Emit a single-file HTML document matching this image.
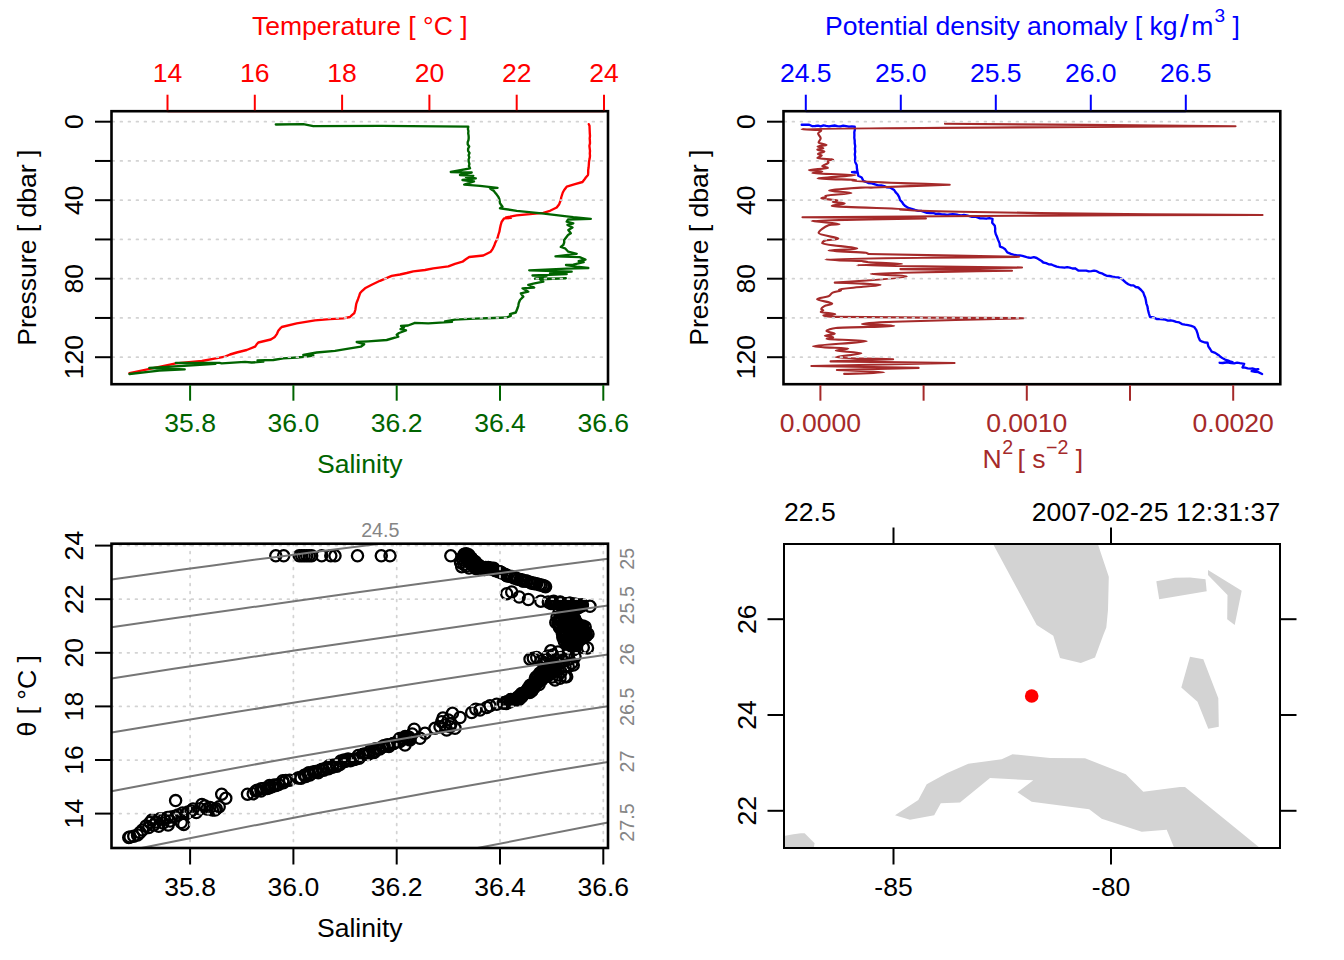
<!DOCTYPE html>
<html><head><meta charset="utf-8"><title>CTD plot</title>
<style>
html,body{margin:0;padding:0;background:#fff;}
svg{display:block;font-family:"Liberation Sans",sans-serif;}
</style></head>
<body>
<svg width="1344" height="960" viewBox="0 0 1344 960">
<defs>
<clipPath id="c1"><rect x="111.5" y="111.2" width="496.5" height="273.0"/></clipPath>
<clipPath id="c2"><rect x="783.5" y="111.2" width="496.79999999999995" height="273.0"/></clipPath>
<clipPath id="c3"><rect x="111.5" y="543.7" width="496.5" height="304.29999999999995"/></clipPath>
<clipPath id="c4"><rect x="784" y="544" width="496" height="304"/></clipPath>
</defs>
<rect width="1344" height="960" fill="#fff"/>
<g clip-path="url(#c1)">
<polyline points="588.8,124.2 589.5,125.8 589.6,128.3 589.7,130.8 589.8,133.3 590.0,135.8 589.7,138.3 589.9,140.8 590.0,143.3 589.4,145.8 589.7,148.3 590.0,150.8 589.8,153.3 590.0,155.8 589.7,158.3 589.0,161.7 588.8,165.0 588.6,167.5 588.2,170.0 588.2,172.5 588.0,175.0 585.8,177.5 584.2,179.8 582.5,182.0 575.0,184.2 566.7,186.7 564.2,190.0 562.8,192.5 562.0,195.0 561.2,197.5 560.8,200.0 559.2,204.2 556.7,207.5 550.0,210.8 543.3,212.8 530.0,214.2 516.7,215.3 510.0,216.7 506.0,217.3 511.0,217.9 504.2,218.3 501.7,221.7 500.7,225.0 500.0,228.3 499.4,231.7 498.3,235.0 497.7,237.5 496.7,240.0 495.2,242.9 494.2,245.8 492.7,248.8 490.8,251.7 483.3,255.5 469.2,257.0 465.8,259.2 462.5,261.7 455.0,263.8 448.3,266.3 433.3,268.3 425.0,270.0 413.3,271.3 406.7,273.0 400.0,274.5 391.7,275.8 380.0,280.8 371.7,284.7 365.0,288.3 362.2,290.8 360.0,293.3 359.1,296.2 358.0,299.2 357.0,301.7 356.2,304.2 355.8,306.7 355.3,310.0 354.2,313.3 351.9,315.1 350.0,317.0 343.3,318.3 330.0,319.2 315.0,320.3 296.7,323.3 281.7,327.0 279.8,328.9 278.3,330.8 277.0,333.8 275.0,336.7 273.2,338.1 270.8,339.5 258.3,342.5 256.5,344.6 255.0,346.7 246.7,350.0 236.7,352.5 230.0,354.5 225.0,356.7 214.4,358.6 201.9,361.0 175.8,363.3 129.5,373.2" fill="none" stroke="#ff0000" stroke-width="2.35" stroke-linejoin="round" stroke-linecap="round"/>
<polyline points="275.8,124.5 303.3,124.2 313.3,126.2 381.7,125.8 468.3,126.7 467.9,128.9 468.4,131.1 468.2,133.3 468.6,135.6 468.7,137.8 468.5,140.0 467.7,142.2 467.7,144.3 469.2,146.5 468.1,148.7 468.1,150.8 469.5,153.0 468.6,155.2 469.3,157.4 468.6,159.5 468.7,161.7 469.4,163.9 468.9,166.1 470.0,168.3 450.8,172.0 471.7,172.5 460.0,175.0 473.3,175.8 466.0,177.0 475.8,178.3 462.5,180.0 474.0,181.5 464.2,184.7 480.0,185.8 497.5,187.8 490.0,188.3 491.9,189.7 494.0,191.1 495.0,192.5 496.7,194.6 498.3,196.7 499.3,198.9 499.7,201.1 500.0,203.3 502.5,206.7 500.0,208.3 516.7,210.8 541.7,213.3 566.7,216.3 573.3,217.2 590.8,218.8 568.0,219.5 566.7,221.7 573.3,223.3 567.5,225.0 572.5,227.5 568.3,230.0 570.8,233.3 568.0,235.0 566.7,236.7 564.2,240.0 564.2,242.5 563.3,245.0 560.8,247.0 565.0,248.3 568.3,251.7 576.7,253.8 555.5,256.3 579.6,257.2 585.5,259.5 578.7,261.2 583.7,262.2 573.3,264.7 566.0,265.0 576.7,266.7 588.3,268.0 566.7,268.7 529.2,270.3 571.7,271.7 550.0,273.3 566.7,274.2 532.5,275.5 546.7,275.8 535.0,278.7 565.8,278.3 540.0,279.3 543.3,281.7 533.3,283.7 528.3,285.0 534.2,287.5 522.5,288.3 528.3,291.7 520.8,293.3 523.3,296.7 520.0,300.0 518.7,303.3 518.3,305.8 517.5,308.3 515.8,312.5 510.0,314.2 510.8,315.8 506.7,317.5 493.3,318.0 475.0,318.7 455.0,319.7 445.0,321.3 452.0,321.8 428.3,323.3 415.0,322.8 408.0,325.5 401.0,326.0 404.0,327.5 400.5,329.0 406.0,330.5 399.0,333.0 396.7,334.7 398.3,336.7 386.7,340.0 368.3,341.3 356.7,342.0 364.2,344.2 360.8,346.7 350.0,348.3 335.0,350.8 316.7,352.5 303.3,355.0 313.3,355.5 306.7,356.7 296.7,357.5 283.3,358.3 273.3,360.0 257.5,360.3 263.3,361.7 251.7,362.5 245.0,361.8 221.7,363.3 219.6,362.8 175.8,362.9 215.4,363.9 149.3,368.0 184.7,369.4 159.2,370.6 129.5,374.0" fill="none" stroke="#006400" stroke-width="2.35" stroke-linejoin="round" stroke-linecap="round"/>
</g>
<line x1="112.5" y1="121.7" x2="607" y2="121.7" stroke="#d3d3d3" stroke-width="1.75" stroke-dasharray="1.7 6.3" stroke-linecap="round"/>
<line x1="112.5" y1="160.95" x2="607" y2="160.95" stroke="#d3d3d3" stroke-width="1.75" stroke-dasharray="1.7 6.3" stroke-linecap="round"/>
<line x1="112.5" y1="200.2" x2="607" y2="200.2" stroke="#d3d3d3" stroke-width="1.75" stroke-dasharray="1.7 6.3" stroke-linecap="round"/>
<line x1="112.5" y1="239.45" x2="607" y2="239.45" stroke="#d3d3d3" stroke-width="1.75" stroke-dasharray="1.7 6.3" stroke-linecap="round"/>
<line x1="112.5" y1="278.7" x2="607" y2="278.7" stroke="#d3d3d3" stroke-width="1.75" stroke-dasharray="1.7 6.3" stroke-linecap="round"/>
<line x1="112.5" y1="317.95" x2="607" y2="317.95" stroke="#d3d3d3" stroke-width="1.75" stroke-dasharray="1.7 6.3" stroke-linecap="round"/>
<line x1="112.5" y1="357.2" x2="607" y2="357.2" stroke="#d3d3d3" stroke-width="1.75" stroke-dasharray="1.7 6.3" stroke-linecap="round"/>
<line x1="167.5" y1="111.2" x2="604.0" y2="111.2" stroke="#ff0000" stroke-width="2" />
<line x1="190.09999999999854" y1="384.2" x2="603.3000000000006" y2="384.2" stroke="#006400" stroke-width="2" />
<rect x="111.5" y="111.2" width="496.5" height="273.0" fill="none" stroke="#000" stroke-width="2.6"/>
<line x1="95.0" y1="121.7" x2="111.5" y2="121.7" stroke="#000" stroke-width="2" />
<line x1="95.0" y1="160.95" x2="111.5" y2="160.95" stroke="#000" stroke-width="2" />
<line x1="95.0" y1="200.2" x2="111.5" y2="200.2" stroke="#000" stroke-width="2" />
<line x1="95.0" y1="239.45" x2="111.5" y2="239.45" stroke="#000" stroke-width="2" />
<line x1="95.0" y1="278.7" x2="111.5" y2="278.7" stroke="#000" stroke-width="2" />
<line x1="95.0" y1="317.95" x2="111.5" y2="317.95" stroke="#000" stroke-width="2" />
<line x1="95.0" y1="357.2" x2="111.5" y2="357.2" stroke="#000" stroke-width="2" />
<text x="83.2" y="121.7" fill="#000" font-size="26.56" text-anchor="middle" transform="rotate(-90 83.2 121.7)" >0</text>
<text x="83.2" y="200.2" fill="#000" font-size="26.56" text-anchor="middle" transform="rotate(-90 83.2 200.2)" >40</text>
<text x="83.2" y="278.7" fill="#000" font-size="26.56" text-anchor="middle" transform="rotate(-90 83.2 278.7)" >80</text>
<text x="83.2" y="357.2" fill="#000" font-size="26.56" text-anchor="middle" transform="rotate(-90 83.2 357.2)" >120</text>
<text x="36.0" y="247.7" fill="#000" font-size="26.56" text-anchor="middle" transform="rotate(-90 36.0 247.7)" >Pressure [ dbar ]</text>
<line x1="167.5" y1="94.7" x2="167.5" y2="110.2" stroke="#ff0000" stroke-width="2" />
<text x="167.5" y="82" fill="#ff0000" font-size="26.56" text-anchor="middle" >14</text>
<line x1="254.8" y1="94.7" x2="254.8" y2="110.2" stroke="#ff0000" stroke-width="2" />
<text x="254.8" y="82" fill="#ff0000" font-size="26.56" text-anchor="middle" >16</text>
<line x1="342.1" y1="94.7" x2="342.1" y2="110.2" stroke="#ff0000" stroke-width="2" />
<text x="342.1" y="82" fill="#ff0000" font-size="26.56" text-anchor="middle" >18</text>
<line x1="429.4" y1="94.7" x2="429.4" y2="110.2" stroke="#ff0000" stroke-width="2" />
<text x="429.4" y="82" fill="#ff0000" font-size="26.56" text-anchor="middle" >20</text>
<line x1="516.7" y1="94.7" x2="516.7" y2="110.2" stroke="#ff0000" stroke-width="2" />
<text x="516.7" y="82" fill="#ff0000" font-size="26.56" text-anchor="middle" >22</text>
<line x1="604.0" y1="94.7" x2="604.0" y2="110.2" stroke="#ff0000" stroke-width="2" />
<text x="604.0" y="82" fill="#ff0000" font-size="26.56" text-anchor="middle" >24</text>
<text x="359.75" y="35" fill="#ff0000" font-size="26.56" text-anchor="middle" >Temperature [ °C ]</text>
<line x1="190.09999999999854" y1="385.2" x2="190.09999999999854" y2="400.7" stroke="#006400" stroke-width="2" />
<text x="190.09999999999854" y="431.7" fill="#006400" font-size="26.56" text-anchor="middle" >35.8</text>
<line x1="293.4" y1="385.2" x2="293.4" y2="400.7" stroke="#006400" stroke-width="2" />
<text x="293.4" y="431.7" fill="#006400" font-size="26.56" text-anchor="middle" >36.0</text>
<line x1="396.7000000000014" y1="385.2" x2="396.7000000000014" y2="400.7" stroke="#006400" stroke-width="2" />
<text x="396.7000000000014" y="431.7" fill="#006400" font-size="26.56" text-anchor="middle" >36.2</text>
<line x1="499.9999999999992" y1="385.2" x2="499.9999999999992" y2="400.7" stroke="#006400" stroke-width="2" />
<text x="499.9999999999992" y="431.7" fill="#006400" font-size="26.56" text-anchor="middle" >36.4</text>
<line x1="603.3000000000006" y1="385.2" x2="603.3000000000006" y2="400.7" stroke="#006400" stroke-width="2" />
<text x="603.3000000000006" y="431.7" fill="#006400" font-size="26.56" text-anchor="middle" >36.6</text>
<text x="359.75" y="473" fill="#006400" font-size="26.56" text-anchor="middle" >Salinity</text>
<g clip-path="url(#c2)">
<polyline points="801.7,124.7 805.5,124.7 809.2,124.7 812.5,126.2 815.2,126.0 818.0,125.7 820.7,126.4 823.5,125.4 826.2,125.9 829.0,126.3 831.7,125.8 834.6,125.5 837.4,126.1 840.3,126.3 843.2,125.7 846.1,126.2 848.9,126.7 851.8,126.5 854.7,126.7 854.9,129.5 854.3,132.2 854.4,135.0 854.3,137.8 854.7,140.5 854.7,143.3 855.2,146.1 854.9,148.9 855.2,151.7 854.8,154.4 855.2,157.2 855.0,160.0 855.4,162.5 856.7,165.0 856.9,168.3 857.5,171.7 854.7,171.8 852.0,172.2 854.9,172.6 857.8,172.6 858.3,175.8 861.7,177.5 863.3,180.8 865.8,181.8 868.3,183.0 871.7,183.3 875.0,184.3 878.3,185.3 881.3,185.5 884.2,186.2 887.0,187.3 890.0,187.5 894.2,190.0 895.5,192.1 897.5,194.2 899.2,197.1 900.0,200.0 902.1,202.1 903.3,204.2 905.3,206.1 908.3,208.0 911.7,208.8 915.0,209.9 918.3,210.8 921.3,210.8 924.2,211.8 927.0,212.9 930.0,213.0 933.0,212.9 935.8,213.8 938.8,213.6 941.7,214.3 944.5,214.5 947.2,215.0 950.0,214.3 952.8,214.2 955.6,214.4 958.3,215.0 961.1,215.3 963.9,215.0 966.7,215.4 969.4,216.1 972.2,216.9 975.0,216.7 977.5,217.4 980.0,218.3 983.1,218.3 986.2,218.7 989.4,218.2 992.5,218.8 992.2,222.7 994.8,225.8 995.2,228.6 995.1,231.4 995.8,234.2 997.0,236.8 997.9,239.4 999.5,243.1 1000.0,246.7 1002.8,247.6 1005.2,249.3 1007.3,252.4 1010.9,253.8 1014.6,255.0 1017.2,255.5 1019.9,255.4 1022.4,255.9 1025.0,256.6 1027.9,257.5 1030.8,257.8 1033.8,257.2 1036.7,258.0 1039.1,259.5 1041.6,261.0 1043.3,262.5 1046.1,263.1 1048.6,264.3 1051.5,264.5 1054.1,265.7 1056.7,266.7 1059.3,267.1 1061.9,267.3 1064.5,267.7 1067.2,267.2 1069.8,267.7 1072.4,268.5 1075.0,268.3 1078.3,270.5 1080.9,270.7 1083.6,270.6 1086.2,270.7 1088.8,271.4 1091.4,271.1 1094.1,270.6 1096.7,271.2 1099.1,272.6 1101.8,273.3 1104.2,274.6 1106.7,275.8 1109.6,276.0 1112.4,276.7 1115.2,277.1 1118.1,277.4 1120.8,278.3 1123.4,280.3 1125.4,282.2 1128.3,284.2 1130.7,285.3 1133.5,285.4 1135.7,287.0 1138.3,287.5 1141.1,290.0 1143.3,292.5 1144.1,295.0 1145.2,297.5 1145.8,300.0 1146.3,303.3 1147.5,306.7 1148.0,310.0 1148.9,313.5 1150.0,317.0 1153.4,317.4 1156.6,319.0 1160.0,319.2 1162.7,319.4 1165.3,319.7 1167.9,320.6 1170.7,320.3 1173.3,320.8 1176.2,321.9 1179.3,322.4 1182.0,324.1 1185.0,324.7 1188.1,325.2 1191.3,325.8 1194.2,327.0 1196.4,330.1 1197.5,333.3 1198.4,336.9 1200.0,340.5 1202.4,341.7 1204.8,342.5 1207.5,342.7 1208.3,346.3 1210.1,349.0 1211.7,351.7 1215.2,352.9 1218.3,355.0 1220.1,356.5 1222.4,358.1 1225.0,359.6 1227.5,360.3 1230.0,361.4 1232.5,362.1 1229.2,361.8 1226.1,362.6 1222.8,363.0 1219.6,362.8 1222.5,362.9 1225.4,362.5 1228.4,362.5 1231.3,363.1 1234.2,363.3 1237.1,362.7 1240.0,363.2 1244.2,363.8 1242.5,367.5 1245.1,367.7 1247.7,368.3 1250.4,368.6 1253.0,368.5 1255.6,369.3 1258.3,369.2 1255.1,370.6 1251.7,371.2 1255.0,371.9 1258.3,372.1 1262.1,374.0" fill="none" stroke="#0000ff" stroke-width="2.35" stroke-linejoin="round" stroke-linecap="round"/>
<path d="M945.0,123.7C994.4,124.1 1235.5,126.3 1235.5,126.3C1235.5,126.3 801.5,128.2 801.5,128.9C801.5,129.6 821.3,129.7 821.3,130.5C821.3,131.3 818.1,132.3 818.1,133.6C818.1,134.9 820.7,136.8 820.7,138.3C820.7,139.8 818.6,141.4 818.6,142.5C818.6,143.6 826.5,144.2 826.5,144.9C826.5,145.6 817.6,146.0 817.6,146.6C817.6,147.2 823.3,147.7 823.3,148.2C823.3,148.7 817.3,149.2 817.3,149.8C817.3,150.4 824.4,150.8 824.4,151.5C824.4,152.2 817.9,153.2 817.9,153.9C817.9,154.6 821.8,154.8 821.8,155.5C821.8,156.2 817.3,157.4 817.3,158.1C817.3,158.8 833.2,159.1 833.2,159.5C833.2,159.9 827.5,160.1 827.5,160.7C827.5,161.3 828.5,161.9 828.5,162.8C828.5,163.7 822.3,165.2 822.3,166.1C822.3,167.0 828.0,167.3 828.0,168.0C828.0,168.7 808.8,169.5 808.8,170.1C808.8,170.7 822.3,171.1 822.3,171.6C822.3,172.1 812.4,172.6 812.4,173.2C812.4,173.8 855.6,174.2 855.6,175.1C855.6,176.0 817.6,177.6 817.6,178.4C817.6,179.2 856.0,179.4 856.0,179.8C856.0,180.2 852.5,180.2 852.5,181.0C852.5,181.8 949.7,184.7 949.7,184.7C949.7,184.7 889.1,187.0 874.0,187.5C869.1,187.7 865.9,187.3 861.0,187.6C853.4,188.1 829.1,189.5 829.1,190.4C829.1,191.3 851.5,192.1 851.5,193.0C851.5,193.9 825.4,194.9 825.4,195.6C825.4,196.2 826.0,196.6 826.0,197.0C826.0,197.4 821.3,197.7 821.3,198.2C821.3,198.7 829.0,199.4 831.7,199.8C833.9,200.1 837.4,199.9 837.4,200.3C837.4,200.7 832.7,201.3 832.7,201.9C832.7,202.5 844.7,202.9 844.7,203.6C844.7,204.3 831.7,205.0 831.7,206.0C831.7,207.0 911.0,208.7 911.0,209.4C911.0,210.1 900.0,209.5 900.0,209.9C900.0,210.3 937.2,211.2 960.0,211.7C983.8,212.2 1009.6,212.7 1040.0,213.1C1072.3,213.5 1112.2,214.0 1150.0,214.3C1187.8,214.6 1262.5,215.0 1262.5,215.0C1262.5,215.0 1118.2,215.2 1040.0,215.6C961.8,216.0 802.5,217.3 802.5,217.3C802.5,217.3 925.9,218.5 925.9,218.5C925.9,218.5 811.4,219.9 811.4,220.8C811.4,221.7 839.5,223.2 839.5,224.0C839.5,224.8 832.1,223.8 828.5,225.3C824.9,226.8 818.6,230.9 818.6,233.1C818.6,235.3 838.4,237.3 838.4,238.5C838.4,239.7 828.1,239.6 825.4,240.4C823.8,240.9 822.3,242.1 822.3,243.5C822.3,244.9 857.2,247.3 857.2,248.5C857.2,249.7 828.5,249.8 828.5,250.5C828.5,251.2 859.1,252.1 866.0,252.7C867.2,252.8 867.8,254.0 869.0,254.0C895.0,254.7 1019.0,256.8 1019.0,256.8C1019.0,256.8 825.4,258.6 825.4,259.4C825.4,260.2 867.0,260.9 867.0,261.3C867.0,261.7 863.0,261.6 863.0,262.0C863.0,262.4 902.0,263.4 902.0,263.9C902.0,264.4 857.2,264.6 857.2,265.2C857.2,265.8 1022.0,267.5 1022.0,267.5C1022.0,267.5 900.4,269.1 900.4,269.1C900.4,269.1 1012.0,270.8 1012.0,270.8C1012.0,270.8 870.7,272.8 870.7,273.8C870.7,274.8 906.7,274.9 906.7,276.4C906.7,277.9 834.8,282.6 834.8,282.6C834.8,282.6 880.6,284.0 880.6,284.7C880.6,285.4 869.6,286.0 862.9,286.8C855.8,287.6 839.0,288.8 839.0,289.4C839.0,290.0 841.0,290.0 841.0,290.5C841.0,291.0 834.8,291.6 832.7,292.6C830.8,293.5 830.5,295.5 828.5,296.3C825.8,297.4 817.1,298.0 817.1,299.2C817.1,300.4 832.2,302.3 832.2,303.5C832.2,304.7 826.3,305.1 824.4,306.1C822.9,306.9 821.3,308.6 821.3,309.3C821.3,310.0 823.3,309.9 823.3,310.3C823.3,310.7 820.7,311.2 820.7,311.9C820.7,312.6 835.3,313.6 835.3,314.2C835.3,314.8 823.3,315.0 823.3,315.5C823.3,316.0 831.7,316.8 836.9,316.9C870.9,317.4 1023.5,318.2 1023.5,318.2C1023.5,318.2 921.7,320.8 894.2,321.8C881.9,322.2 861.9,323.2 861.9,323.9C861.9,324.6 894.2,325.2 894.2,325.9C894.2,326.6 847.3,327.1 835.8,328.0C832.1,328.3 826.5,330.1 826.5,331.1C826.5,332.1 834.8,333.0 834.8,333.8C834.8,334.5 824.9,335.2 824.9,335.8C824.9,336.4 833.2,336.9 833.2,337.4C833.2,337.9 826.5,338.3 826.5,339.0C826.5,339.7 866.6,340.0 866.6,341.2C866.6,342.5 813.1,345.0 813.1,346.2C813.1,347.5 848.3,347.8 848.3,348.5C848.3,349.2 835.8,349.8 835.8,350.6C835.8,351.4 861.4,352.2 861.4,353.3C861.4,354.4 835.8,356.2 835.8,357.2C835.8,358.2 893.1,359.3 893.1,359.3C893.1,359.3 830.6,361.4 830.6,361.4C830.6,361.4 954.5,363.0 954.5,363.0C954.5,363.0 811.4,366.0 811.4,366.0C811.4,366.0 918.6,367.9 918.6,367.9C918.6,367.9 836.9,370.0 836.9,370.0C836.9,370.0 884.3,371.6 884.3,372.3C884.3,373.0 851.0,373.6 844.2,373.9" fill="none" stroke="#a52a2a" stroke-width="2.15" stroke-linejoin="round" stroke-linecap="round"/>
</g>
<line x1="784.5" y1="121.7" x2="1279.3" y2="121.7" stroke="#d3d3d3" stroke-width="1.75" stroke-dasharray="1.7 6.3" stroke-linecap="round"/>
<line x1="784.5" y1="160.95" x2="1279.3" y2="160.95" stroke="#d3d3d3" stroke-width="1.75" stroke-dasharray="1.7 6.3" stroke-linecap="round"/>
<line x1="784.5" y1="200.2" x2="1279.3" y2="200.2" stroke="#d3d3d3" stroke-width="1.75" stroke-dasharray="1.7 6.3" stroke-linecap="round"/>
<line x1="784.5" y1="239.45" x2="1279.3" y2="239.45" stroke="#d3d3d3" stroke-width="1.75" stroke-dasharray="1.7 6.3" stroke-linecap="round"/>
<line x1="784.5" y1="278.7" x2="1279.3" y2="278.7" stroke="#d3d3d3" stroke-width="1.75" stroke-dasharray="1.7 6.3" stroke-linecap="round"/>
<line x1="784.5" y1="317.95" x2="1279.3" y2="317.95" stroke="#d3d3d3" stroke-width="1.75" stroke-dasharray="1.7 6.3" stroke-linecap="round"/>
<line x1="784.5" y1="357.2" x2="1279.3" y2="357.2" stroke="#d3d3d3" stroke-width="1.75" stroke-dasharray="1.7 6.3" stroke-linecap="round"/>
<line x1="805.8" y1="111.2" x2="1185.8" y2="111.2" stroke="#0000ff" stroke-width="2" />
<line x1="820.4" y1="384.2" x2="1233.2" y2="384.2" stroke="#a52a2a" stroke-width="2" />
<rect x="783.5" y="111.2" width="496.79999999999995" height="273.0" fill="none" stroke="#000" stroke-width="2.6"/>
<line x1="767.0" y1="121.7" x2="783.5" y2="121.7" stroke="#000" stroke-width="2" />
<line x1="767.0" y1="160.95" x2="783.5" y2="160.95" stroke="#000" stroke-width="2" />
<line x1="767.0" y1="200.2" x2="783.5" y2="200.2" stroke="#000" stroke-width="2" />
<line x1="767.0" y1="239.45" x2="783.5" y2="239.45" stroke="#000" stroke-width="2" />
<line x1="767.0" y1="278.7" x2="783.5" y2="278.7" stroke="#000" stroke-width="2" />
<line x1="767.0" y1="317.95" x2="783.5" y2="317.95" stroke="#000" stroke-width="2" />
<line x1="767.0" y1="357.2" x2="783.5" y2="357.2" stroke="#000" stroke-width="2" />
<text x="755.2" y="121.7" fill="#000" font-size="26.56" text-anchor="middle" transform="rotate(-90 755.2 121.7)" >0</text>
<text x="755.2" y="200.2" fill="#000" font-size="26.56" text-anchor="middle" transform="rotate(-90 755.2 200.2)" >40</text>
<text x="755.2" y="278.7" fill="#000" font-size="26.56" text-anchor="middle" transform="rotate(-90 755.2 278.7)" >80</text>
<text x="755.2" y="357.2" fill="#000" font-size="26.56" text-anchor="middle" transform="rotate(-90 755.2 357.2)" >120</text>
<text x="708.0" y="247.7" fill="#000" font-size="26.56" text-anchor="middle" transform="rotate(-90 708.0 247.7)" >Pressure [ dbar ]</text>
<line x1="805.8" y1="94.7" x2="805.8" y2="110.2" stroke="#0000ff" stroke-width="2" />
<text x="805.8" y="82" fill="#0000ff" font-size="26.56" text-anchor="middle" >24.5</text>
<line x1="900.8" y1="94.7" x2="900.8" y2="110.2" stroke="#0000ff" stroke-width="2" />
<text x="900.8" y="82" fill="#0000ff" font-size="26.56" text-anchor="middle" >25.0</text>
<line x1="995.8" y1="94.7" x2="995.8" y2="110.2" stroke="#0000ff" stroke-width="2" />
<text x="995.8" y="82" fill="#0000ff" font-size="26.56" text-anchor="middle" >25.5</text>
<line x1="1090.8" y1="94.7" x2="1090.8" y2="110.2" stroke="#0000ff" stroke-width="2" />
<text x="1090.8" y="82" fill="#0000ff" font-size="26.56" text-anchor="middle" >26.0</text>
<line x1="1185.8" y1="94.7" x2="1185.8" y2="110.2" stroke="#0000ff" stroke-width="2" />
<text x="1185.8" y="82" fill="#0000ff" font-size="26.56" text-anchor="middle" >26.5</text>
<text x="1032.4" y="35" fill="#0000ff" font-size="26.56" text-anchor="middle">Potential density anomaly [ kg<tspan dx="2.5" dy="1.5" font-size="31.340799999999998">/</tspan><tspan dx="2.5" dy="-1.5">m</tspan><tspan font-size="19.123199999999997" dy="-13" dx="1">3</tspan><tspan dy="13"> ]</tspan></text>
<line x1="820.4" y1="385.2" x2="820.4" y2="400.7" stroke="#a52a2a" stroke-width="2" />
<line x1="923.6" y1="385.2" x2="923.6" y2="400.7" stroke="#a52a2a" stroke-width="2" />
<line x1="1026.8" y1="385.2" x2="1026.8" y2="400.7" stroke="#a52a2a" stroke-width="2" />
<line x1="1130.0" y1="385.2" x2="1130.0" y2="400.7" stroke="#a52a2a" stroke-width="2" />
<line x1="1233.2" y1="385.2" x2="1233.2" y2="400.7" stroke="#a52a2a" stroke-width="2" />
<text x="820.4" y="431.7" fill="#a52a2a" font-size="26.56" text-anchor="middle" >0.0000</text>
<text x="1026.8" y="431.7" fill="#a52a2a" font-size="26.56" text-anchor="middle" >0.0010</text>
<text x="1233.2" y="431.7" fill="#a52a2a" font-size="26.56" text-anchor="middle" >0.0020</text>
<text x="1032.9" y="468" fill="#a52a2a" font-size="26.56" text-anchor="middle">N<tspan font-size="19.6544" dy="-14" dx="0.5">2</tspan><tspan dy="14" dx="-3"> [ s</tspan><tspan font-size="19.6544" dy="-14" dx="0.5">−2</tspan><tspan dy="14"> ]</tspan></text>
<g clip-path="url(#c3)">
<circle cx="275.8" cy="555.8" r="5.6" fill="none" stroke="#000" stroke-width="2.3"/>
<circle cx="283.7" cy="555.8" r="5.6" fill="none" stroke="#000" stroke-width="2.3"/>
<circle cx="299.2" cy="555.8" r="5.6" fill="none" stroke="#000" stroke-width="2.3"/>
<circle cx="301.7" cy="555.8" r="5.6" fill="none" stroke="#000" stroke-width="2.3"/>
<circle cx="304.2" cy="555.8" r="5.6" fill="none" stroke="#000" stroke-width="2.3"/>
<circle cx="306.7" cy="555.8" r="5.6" fill="none" stroke="#000" stroke-width="2.3"/>
<circle cx="309.2" cy="555.8" r="5.6" fill="none" stroke="#000" stroke-width="2.3"/>
<circle cx="311.7" cy="555.8" r="5.6" fill="none" stroke="#000" stroke-width="2.3"/>
<circle cx="321.7" cy="555.8" r="5.6" fill="none" stroke="#000" stroke-width="2.3"/>
<circle cx="330.8" cy="555.8" r="5.6" fill="none" stroke="#000" stroke-width="2.3"/>
<circle cx="335" cy="555.8" r="5.6" fill="none" stroke="#000" stroke-width="2.3"/>
<circle cx="357.5" cy="555.8" r="5.6" fill="none" stroke="#000" stroke-width="2.3"/>
<circle cx="381.3" cy="555.8" r="5.6" fill="none" stroke="#000" stroke-width="2.3"/>
<circle cx="390" cy="555.8" r="5.6" fill="none" stroke="#000" stroke-width="2.3"/>
<circle cx="450.8" cy="555.8" r="5.6" fill="none" stroke="#000" stroke-width="2.3"/>
<circle cx="463.6" cy="556.3" r="5.6" fill="none" stroke="#000" stroke-width="2.3"/>
<circle cx="466.0" cy="555.1" r="5.6" fill="none" stroke="#000" stroke-width="2.3"/>
<circle cx="466.2" cy="553.7" r="5.6" fill="none" stroke="#000" stroke-width="2.3"/>
<circle cx="464.2" cy="554.3" r="5.6" fill="none" stroke="#000" stroke-width="2.3"/>
<circle cx="468.7" cy="554.8" r="5.6" fill="none" stroke="#000" stroke-width="2.3"/>
<circle cx="467.9" cy="559.3" r="5.6" fill="none" stroke="#000" stroke-width="2.3"/>
<circle cx="467.0" cy="559.8" r="5.6" fill="none" stroke="#000" stroke-width="2.3"/>
<circle cx="469.8" cy="556.4" r="5.6" fill="none" stroke="#000" stroke-width="2.3"/>
<circle cx="466.0" cy="556.8" r="5.6" fill="none" stroke="#000" stroke-width="2.3"/>
<circle cx="466.8" cy="558.6" r="5.6" fill="none" stroke="#000" stroke-width="2.3"/>
<circle cx="468.2" cy="558.7" r="5.6" fill="none" stroke="#000" stroke-width="2.3"/>
<circle cx="466.7" cy="557.1" r="5.6" fill="none" stroke="#000" stroke-width="2.3"/>
<circle cx="469.2" cy="558.1" r="5.6" fill="none" stroke="#000" stroke-width="2.3"/>
<circle cx="469.6" cy="558.3" r="5.6" fill="none" stroke="#000" stroke-width="2.3"/>
<circle cx="471.4" cy="558.3" r="5.6" fill="none" stroke="#000" stroke-width="2.3"/>
<circle cx="470.7" cy="561.8" r="5.6" fill="none" stroke="#000" stroke-width="2.3"/>
<circle cx="469.7" cy="562.7" r="5.6" fill="none" stroke="#000" stroke-width="2.3"/>
<circle cx="470.7" cy="561.7" r="5.6" fill="none" stroke="#000" stroke-width="2.3"/>
<circle cx="471.4" cy="558.2" r="5.6" fill="none" stroke="#000" stroke-width="2.3"/>
<circle cx="473.4" cy="561.4" r="5.6" fill="none" stroke="#000" stroke-width="2.3"/>
<circle cx="471.2" cy="562.3" r="5.6" fill="none" stroke="#000" stroke-width="2.3"/>
<circle cx="473.0" cy="561.3" r="5.6" fill="none" stroke="#000" stroke-width="2.3"/>
<circle cx="475.4" cy="561.8" r="5.6" fill="none" stroke="#000" stroke-width="2.3"/>
<circle cx="470.8" cy="563.2" r="5.6" fill="none" stroke="#000" stroke-width="2.3"/>
<circle cx="476.3" cy="564.1" r="5.6" fill="none" stroke="#000" stroke-width="2.3"/>
<circle cx="473.2" cy="563.5" r="5.6" fill="none" stroke="#000" stroke-width="2.3"/>
<circle cx="473.9" cy="561.2" r="5.6" fill="none" stroke="#000" stroke-width="2.3"/>
<circle cx="472.0" cy="564.6" r="5.6" fill="none" stroke="#000" stroke-width="2.3"/>
<circle cx="473.3" cy="562.9" r="5.6" fill="none" stroke="#000" stroke-width="2.3"/>
<circle cx="472.9" cy="563.6" r="5.6" fill="none" stroke="#000" stroke-width="2.3"/>
<circle cx="477.6" cy="565.8" r="5.6" fill="none" stroke="#000" stroke-width="2.3"/>
<circle cx="474.6" cy="564.0" r="5.6" fill="none" stroke="#000" stroke-width="2.3"/>
<circle cx="478.3" cy="567.0" r="5.6" fill="none" stroke="#000" stroke-width="2.3"/>
<circle cx="474.6" cy="563.5" r="5.6" fill="none" stroke="#000" stroke-width="2.3"/>
<circle cx="476.7" cy="565.7" r="5.6" fill="none" stroke="#000" stroke-width="2.3"/>
<circle cx="474.3" cy="565.1" r="5.6" fill="none" stroke="#000" stroke-width="2.3"/>
<circle cx="477.8" cy="568.1" r="5.6" fill="none" stroke="#000" stroke-width="2.3"/>
<circle cx="477.9" cy="566.7" r="5.6" fill="none" stroke="#000" stroke-width="2.3"/>
<circle cx="475.7" cy="568.5" r="5.6" fill="none" stroke="#000" stroke-width="2.3"/>
<circle cx="480.6" cy="568.3" r="5.6" fill="none" stroke="#000" stroke-width="2.3"/>
<circle cx="478.2" cy="564.9" r="5.6" fill="none" stroke="#000" stroke-width="2.3"/>
<circle cx="476.7" cy="565.0" r="5.6" fill="none" stroke="#000" stroke-width="2.3"/>
<circle cx="477.5" cy="566.6" r="5.6" fill="none" stroke="#000" stroke-width="2.3"/>
<circle cx="476.9" cy="565.9" r="5.6" fill="none" stroke="#000" stroke-width="2.3"/>
<circle cx="479.2" cy="565.5" r="5.6" fill="none" stroke="#000" stroke-width="2.3"/>
<circle cx="461.7" cy="566.7" r="5.6" fill="none" stroke="#000" stroke-width="2.3"/>
<circle cx="460.5" cy="562.5" r="5.6" fill="none" stroke="#000" stroke-width="2.3"/>
<circle cx="463" cy="560" r="5.6" fill="none" stroke="#000" stroke-width="2.3"/>
<circle cx="462" cy="558" r="5.6" fill="none" stroke="#000" stroke-width="2.3"/>
<circle cx="464" cy="564.5" r="5.6" fill="none" stroke="#000" stroke-width="2.3"/>
<circle cx="466.5" cy="566" r="5.6" fill="none" stroke="#000" stroke-width="2.3"/>
<circle cx="469" cy="568" r="5.6" fill="none" stroke="#000" stroke-width="2.3"/>
<circle cx="482.0" cy="567.2" r="5.6" fill="none" stroke="#000" stroke-width="2.3"/>
<circle cx="482.4" cy="567.8" r="5.6" fill="none" stroke="#000" stroke-width="2.3"/>
<circle cx="484.7" cy="569.4" r="5.6" fill="none" stroke="#000" stroke-width="2.3"/>
<circle cx="485.7" cy="567.4" r="5.6" fill="none" stroke="#000" stroke-width="2.3"/>
<circle cx="486.6" cy="567.9" r="5.6" fill="none" stroke="#000" stroke-width="2.3"/>
<circle cx="488.3" cy="567.5" r="5.6" fill="none" stroke="#000" stroke-width="2.3"/>
<circle cx="490.5" cy="567.9" r="5.6" fill="none" stroke="#000" stroke-width="2.3"/>
<circle cx="490.6" cy="568.9" r="5.6" fill="none" stroke="#000" stroke-width="2.3"/>
<circle cx="494.1" cy="569.4" r="5.6" fill="none" stroke="#000" stroke-width="2.3"/>
<circle cx="493.7" cy="568.2" r="5.6" fill="none" stroke="#000" stroke-width="2.3"/>
<circle cx="494.8" cy="570.2" r="5.6" fill="none" stroke="#000" stroke-width="2.3"/>
<circle cx="495.7" cy="570.8" r="5.6" fill="none" stroke="#000" stroke-width="2.3"/>
<circle cx="498.6" cy="571.8" r="5.6" fill="none" stroke="#000" stroke-width="2.3"/>
<circle cx="499.9" cy="571.8" r="5.6" fill="none" stroke="#000" stroke-width="2.3"/>
<circle cx="500.9" cy="572.2" r="5.6" fill="none" stroke="#000" stroke-width="2.3"/>
<circle cx="501.9" cy="573.0" r="5.6" fill="none" stroke="#000" stroke-width="2.3"/>
<circle cx="504.9" cy="574.2" r="5.6" fill="none" stroke="#000" stroke-width="2.3"/>
<circle cx="506.8" cy="575.7" r="5.6" fill="none" stroke="#000" stroke-width="2.3"/>
<circle cx="506.7" cy="575.2" r="5.6" fill="none" stroke="#000" stroke-width="2.3"/>
<circle cx="507.0" cy="575.7" r="5.6" fill="none" stroke="#000" stroke-width="2.3"/>
<circle cx="510.4" cy="576.4" r="5.6" fill="none" stroke="#000" stroke-width="2.3"/>
<circle cx="512.0" cy="576.6" r="5.6" fill="none" stroke="#000" stroke-width="2.3"/>
<circle cx="514.1" cy="577.9" r="5.6" fill="none" stroke="#000" stroke-width="2.3"/>
<circle cx="515.9" cy="578.0" r="5.6" fill="none" stroke="#000" stroke-width="2.3"/>
<circle cx="517.8" cy="579.2" r="5.6" fill="none" stroke="#000" stroke-width="2.3"/>
<circle cx="520.1" cy="579.5" r="5.6" fill="none" stroke="#000" stroke-width="2.3"/>
<circle cx="522.3" cy="579.9" r="5.6" fill="none" stroke="#000" stroke-width="2.3"/>
<circle cx="522.7" cy="580.9" r="5.6" fill="none" stroke="#000" stroke-width="2.3"/>
<circle cx="523.6" cy="581.1" r="5.6" fill="none" stroke="#000" stroke-width="2.3"/>
<circle cx="526.2" cy="581.1" r="5.6" fill="none" stroke="#000" stroke-width="2.3"/>
<circle cx="527.2" cy="581.2" r="5.6" fill="none" stroke="#000" stroke-width="2.3"/>
<circle cx="530.0" cy="582.3" r="5.6" fill="none" stroke="#000" stroke-width="2.3"/>
<circle cx="531.7" cy="583.2" r="5.6" fill="none" stroke="#000" stroke-width="2.3"/>
<circle cx="533.3" cy="583.0" r="5.6" fill="none" stroke="#000" stroke-width="2.3"/>
<circle cx="534.6" cy="583.7" r="5.6" fill="none" stroke="#000" stroke-width="2.3"/>
<circle cx="536.7" cy="583.7" r="5.6" fill="none" stroke="#000" stroke-width="2.3"/>
<circle cx="539.3" cy="584.7" r="5.6" fill="none" stroke="#000" stroke-width="2.3"/>
<circle cx="541.2" cy="585.1" r="5.6" fill="none" stroke="#000" stroke-width="2.3"/>
<circle cx="543.2" cy="585.8" r="5.6" fill="none" stroke="#000" stroke-width="2.3"/>
<circle cx="544.3" cy="586.1" r="5.6" fill="none" stroke="#000" stroke-width="2.3"/>
<circle cx="545.6" cy="586.8" r="5.6" fill="none" stroke="#000" stroke-width="2.3"/>
<circle cx="506.7" cy="593.7" r="5.6" fill="none" stroke="#000" stroke-width="2.3"/>
<circle cx="511.7" cy="592" r="5.6" fill="none" stroke="#000" stroke-width="2.3"/>
<circle cx="519.2" cy="597" r="5.6" fill="none" stroke="#000" stroke-width="2.3"/>
<circle cx="528.3" cy="599.5" r="5.6" fill="none" stroke="#000" stroke-width="2.3"/>
<circle cx="540.8" cy="601.2" r="5.6" fill="none" stroke="#000" stroke-width="2.3"/>
<circle cx="548.3" cy="602" r="5.6" fill="none" stroke="#000" stroke-width="2.3"/>
<circle cx="551.0" cy="603.5" r="5.6" fill="none" stroke="#000" stroke-width="2.3"/>
<circle cx="551.6" cy="602.8" r="5.6" fill="none" stroke="#000" stroke-width="2.3"/>
<circle cx="553.7" cy="601.3" r="5.6" fill="none" stroke="#000" stroke-width="2.3"/>
<circle cx="553.1" cy="602.0" r="5.6" fill="none" stroke="#000" stroke-width="2.3"/>
<circle cx="554.7" cy="603.3" r="5.6" fill="none" stroke="#000" stroke-width="2.3"/>
<circle cx="556.5" cy="602.9" r="5.6" fill="none" stroke="#000" stroke-width="2.3"/>
<circle cx="556.2" cy="603.3" r="5.6" fill="none" stroke="#000" stroke-width="2.3"/>
<circle cx="557.0" cy="603.5" r="5.6" fill="none" stroke="#000" stroke-width="2.3"/>
<circle cx="558.9" cy="604.2" r="5.6" fill="none" stroke="#000" stroke-width="2.3"/>
<circle cx="560.0" cy="602.6" r="5.6" fill="none" stroke="#000" stroke-width="2.3"/>
<circle cx="560.6" cy="605.0" r="5.6" fill="none" stroke="#000" stroke-width="2.3"/>
<circle cx="559.1" cy="603.5" r="5.6" fill="none" stroke="#000" stroke-width="2.3"/>
<circle cx="560.2" cy="602.1" r="5.6" fill="none" stroke="#000" stroke-width="2.3"/>
<circle cx="562.7" cy="605.6" r="5.6" fill="none" stroke="#000" stroke-width="2.3"/>
<circle cx="563.1" cy="604.7" r="5.6" fill="none" stroke="#000" stroke-width="2.3"/>
<circle cx="564.4" cy="606.0" r="5.6" fill="none" stroke="#000" stroke-width="2.3"/>
<circle cx="565.4" cy="603.8" r="5.6" fill="none" stroke="#000" stroke-width="2.3"/>
<circle cx="566.5" cy="605.7" r="5.6" fill="none" stroke="#000" stroke-width="2.3"/>
<circle cx="565.7" cy="604.5" r="5.6" fill="none" stroke="#000" stroke-width="2.3"/>
<circle cx="566.0" cy="603.8" r="5.6" fill="none" stroke="#000" stroke-width="2.3"/>
<circle cx="566.5" cy="604.9" r="5.6" fill="none" stroke="#000" stroke-width="2.3"/>
<circle cx="567.2" cy="604.1" r="5.6" fill="none" stroke="#000" stroke-width="2.3"/>
<circle cx="569.4" cy="603.2" r="5.6" fill="none" stroke="#000" stroke-width="2.3"/>
<circle cx="571.1" cy="606.9" r="5.6" fill="none" stroke="#000" stroke-width="2.3"/>
<circle cx="570.1" cy="603.2" r="5.6" fill="none" stroke="#000" stroke-width="2.3"/>
<circle cx="571.3" cy="603.7" r="5.6" fill="none" stroke="#000" stroke-width="2.3"/>
<circle cx="573.6" cy="606.6" r="5.6" fill="none" stroke="#000" stroke-width="2.3"/>
<circle cx="572.4" cy="607.1" r="5.6" fill="none" stroke="#000" stroke-width="2.3"/>
<circle cx="574.8" cy="603.9" r="5.6" fill="none" stroke="#000" stroke-width="2.3"/>
<circle cx="575.3" cy="605.3" r="5.6" fill="none" stroke="#000" stroke-width="2.3"/>
<circle cx="576.8" cy="606.2" r="5.6" fill="none" stroke="#000" stroke-width="2.3"/>
<circle cx="575.7" cy="607.3" r="5.6" fill="none" stroke="#000" stroke-width="2.3"/>
<circle cx="578.2" cy="605.7" r="5.6" fill="none" stroke="#000" stroke-width="2.3"/>
<circle cx="578.4" cy="607.7" r="5.6" fill="none" stroke="#000" stroke-width="2.3"/>
<circle cx="578.1" cy="606.2" r="5.6" fill="none" stroke="#000" stroke-width="2.3"/>
<circle cx="578.8" cy="604.9" r="5.6" fill="none" stroke="#000" stroke-width="2.3"/>
<circle cx="579.8" cy="605.5" r="5.6" fill="none" stroke="#000" stroke-width="2.3"/>
<circle cx="582.2" cy="605.6" r="5.6" fill="none" stroke="#000" stroke-width="2.3"/>
<circle cx="581.6" cy="605.9" r="5.6" fill="none" stroke="#000" stroke-width="2.3"/>
<circle cx="582.4" cy="604.7" r="5.6" fill="none" stroke="#000" stroke-width="2.3"/>
<circle cx="590" cy="606.3" r="5.6" fill="none" stroke="#000" stroke-width="2.3"/>
<circle cx="566.7" cy="608.7" r="5.6" fill="none" stroke="#000" stroke-width="2.3"/>
<circle cx="571.5" cy="608.7" r="5.6" fill="none" stroke="#000" stroke-width="2.3"/>
<circle cx="565.8" cy="611.2" r="5.6" fill="none" stroke="#000" stroke-width="2.3"/>
<circle cx="565.6" cy="611.8" r="5.6" fill="none" stroke="#000" stroke-width="2.3"/>
<circle cx="572.9" cy="611.4" r="5.6" fill="none" stroke="#000" stroke-width="2.3"/>
<circle cx="569.9" cy="613.4" r="5.6" fill="none" stroke="#000" stroke-width="2.3"/>
<circle cx="565.7" cy="610.9" r="5.6" fill="none" stroke="#000" stroke-width="2.3"/>
<circle cx="562.6" cy="614.7" r="5.6" fill="none" stroke="#000" stroke-width="2.3"/>
<circle cx="564.0" cy="612.0" r="5.6" fill="none" stroke="#000" stroke-width="2.3"/>
<circle cx="572.8" cy="615.6" r="5.6" fill="none" stroke="#000" stroke-width="2.3"/>
<circle cx="565.4" cy="614.0" r="5.6" fill="none" stroke="#000" stroke-width="2.3"/>
<circle cx="564.7" cy="615.4" r="5.6" fill="none" stroke="#000" stroke-width="2.3"/>
<circle cx="574.6" cy="618.4" r="5.6" fill="none" stroke="#000" stroke-width="2.3"/>
<circle cx="566.3" cy="619.0" r="5.6" fill="none" stroke="#000" stroke-width="2.3"/>
<circle cx="567.8" cy="614.6" r="5.6" fill="none" stroke="#000" stroke-width="2.3"/>
<circle cx="569.5" cy="617.6" r="5.6" fill="none" stroke="#000" stroke-width="2.3"/>
<circle cx="570.1" cy="615.6" r="5.6" fill="none" stroke="#000" stroke-width="2.3"/>
<circle cx="565.4" cy="618.1" r="5.6" fill="none" stroke="#000" stroke-width="2.3"/>
<circle cx="564.8" cy="618.0" r="5.6" fill="none" stroke="#000" stroke-width="2.3"/>
<circle cx="571.8" cy="619.7" r="5.6" fill="none" stroke="#000" stroke-width="2.3"/>
<circle cx="573.0" cy="621.3" r="5.6" fill="none" stroke="#000" stroke-width="2.3"/>
<circle cx="570.1" cy="619.9" r="5.6" fill="none" stroke="#000" stroke-width="2.3"/>
<circle cx="567.4" cy="622.4" r="5.6" fill="none" stroke="#000" stroke-width="2.3"/>
<circle cx="566.4" cy="623.4" r="5.6" fill="none" stroke="#000" stroke-width="2.3"/>
<circle cx="573.5" cy="623.2" r="5.6" fill="none" stroke="#000" stroke-width="2.3"/>
<circle cx="564.4" cy="620.3" r="5.6" fill="none" stroke="#000" stroke-width="2.3"/>
<circle cx="575.7" cy="622.4" r="5.6" fill="none" stroke="#000" stroke-width="2.3"/>
<circle cx="572.0" cy="623.4" r="5.6" fill="none" stroke="#000" stroke-width="2.3"/>
<circle cx="574.0" cy="619.8" r="5.6" fill="none" stroke="#000" stroke-width="2.3"/>
<circle cx="565.2" cy="620.8" r="5.6" fill="none" stroke="#000" stroke-width="2.3"/>
<circle cx="576.8" cy="622.4" r="5.6" fill="none" stroke="#000" stroke-width="2.3"/>
<circle cx="573.8" cy="623.7" r="5.6" fill="none" stroke="#000" stroke-width="2.3"/>
<circle cx="564.1" cy="624.8" r="5.6" fill="none" stroke="#000" stroke-width="2.3"/>
<circle cx="572.4" cy="623.7" r="5.6" fill="none" stroke="#000" stroke-width="2.3"/>
<circle cx="565.6" cy="625.3" r="5.6" fill="none" stroke="#000" stroke-width="2.3"/>
<circle cx="566.0" cy="622.8" r="5.6" fill="none" stroke="#000" stroke-width="2.3"/>
<circle cx="568.4" cy="626.2" r="5.6" fill="none" stroke="#000" stroke-width="2.3"/>
<circle cx="573.4" cy="624.5" r="5.6" fill="none" stroke="#000" stroke-width="2.3"/>
<circle cx="576.6" cy="627.1" r="5.6" fill="none" stroke="#000" stroke-width="2.3"/>
<circle cx="576.2" cy="623.4" r="5.6" fill="none" stroke="#000" stroke-width="2.3"/>
<circle cx="570.2" cy="627.7" r="5.6" fill="none" stroke="#000" stroke-width="2.3"/>
<circle cx="575.5" cy="623.8" r="5.6" fill="none" stroke="#000" stroke-width="2.3"/>
<circle cx="571.0" cy="628.1" r="5.6" fill="none" stroke="#000" stroke-width="2.3"/>
<circle cx="577.9" cy="626.4" r="5.6" fill="none" stroke="#000" stroke-width="2.3"/>
<circle cx="574.8" cy="627.8" r="5.6" fill="none" stroke="#000" stroke-width="2.3"/>
<circle cx="581.8" cy="626.5" r="5.6" fill="none" stroke="#000" stroke-width="2.3"/>
<circle cx="582.9" cy="626.0" r="5.6" fill="none" stroke="#000" stroke-width="2.3"/>
<circle cx="581.3" cy="632.0" r="5.6" fill="none" stroke="#000" stroke-width="2.3"/>
<circle cx="572.7" cy="627.9" r="5.6" fill="none" stroke="#000" stroke-width="2.3"/>
<circle cx="572.1" cy="630.7" r="5.6" fill="none" stroke="#000" stroke-width="2.3"/>
<circle cx="577.3" cy="633.1" r="5.6" fill="none" stroke="#000" stroke-width="2.3"/>
<circle cx="582.3" cy="630.8" r="5.6" fill="none" stroke="#000" stroke-width="2.3"/>
<circle cx="580.8" cy="629.8" r="5.6" fill="none" stroke="#000" stroke-width="2.3"/>
<circle cx="577.7" cy="629.0" r="5.6" fill="none" stroke="#000" stroke-width="2.3"/>
<circle cx="577.9" cy="631.7" r="5.6" fill="none" stroke="#000" stroke-width="2.3"/>
<circle cx="572.9" cy="629.1" r="5.6" fill="none" stroke="#000" stroke-width="2.3"/>
<circle cx="582.6" cy="627.5" r="5.6" fill="none" stroke="#000" stroke-width="2.3"/>
<circle cx="582.4" cy="628.7" r="5.6" fill="none" stroke="#000" stroke-width="2.3"/>
<circle cx="580.5" cy="633.9" r="5.6" fill="none" stroke="#000" stroke-width="2.3"/>
<circle cx="575.6" cy="631.1" r="5.6" fill="none" stroke="#000" stroke-width="2.3"/>
<circle cx="578.5" cy="631.5" r="5.6" fill="none" stroke="#000" stroke-width="2.3"/>
<circle cx="574.0" cy="629.9" r="5.6" fill="none" stroke="#000" stroke-width="2.3"/>
<circle cx="581.7" cy="631.6" r="5.6" fill="none" stroke="#000" stroke-width="2.3"/>
<circle cx="573.3" cy="632.1" r="5.6" fill="none" stroke="#000" stroke-width="2.3"/>
<circle cx="572.4" cy="633.1" r="5.6" fill="none" stroke="#000" stroke-width="2.3"/>
<circle cx="581.9" cy="636.2" r="5.6" fill="none" stroke="#000" stroke-width="2.3"/>
<circle cx="582.2" cy="637.4" r="5.6" fill="none" stroke="#000" stroke-width="2.3"/>
<circle cx="579.4" cy="632.4" r="5.6" fill="none" stroke="#000" stroke-width="2.3"/>
<circle cx="575.5" cy="637.1" r="5.6" fill="none" stroke="#000" stroke-width="2.3"/>
<circle cx="573.0" cy="633.2" r="5.6" fill="none" stroke="#000" stroke-width="2.3"/>
<circle cx="570.6" cy="636.3" r="5.6" fill="none" stroke="#000" stroke-width="2.3"/>
<circle cx="572.9" cy="638.1" r="5.6" fill="none" stroke="#000" stroke-width="2.3"/>
<circle cx="572.2" cy="638.2" r="5.6" fill="none" stroke="#000" stroke-width="2.3"/>
<circle cx="576.3" cy="636.9" r="5.6" fill="none" stroke="#000" stroke-width="2.3"/>
<circle cx="570.6" cy="636.2" r="5.6" fill="none" stroke="#000" stroke-width="2.3"/>
<circle cx="575.1" cy="636.8" r="5.6" fill="none" stroke="#000" stroke-width="2.3"/>
<circle cx="582.0" cy="638.6" r="5.6" fill="none" stroke="#000" stroke-width="2.3"/>
<circle cx="570.6" cy="636.7" r="5.6" fill="none" stroke="#000" stroke-width="2.3"/>
<circle cx="569.1" cy="638.0" r="5.6" fill="none" stroke="#000" stroke-width="2.3"/>
<circle cx="575.6" cy="642.3" r="5.6" fill="none" stroke="#000" stroke-width="2.3"/>
<circle cx="573.3" cy="640.0" r="5.6" fill="none" stroke="#000" stroke-width="2.3"/>
<circle cx="572.6" cy="639.9" r="5.6" fill="none" stroke="#000" stroke-width="2.3"/>
<circle cx="571.2" cy="644.0" r="5.6" fill="none" stroke="#000" stroke-width="2.3"/>
<circle cx="574.2" cy="642.4" r="5.6" fill="none" stroke="#000" stroke-width="2.3"/>
<circle cx="570.0" cy="640.6" r="5.6" fill="none" stroke="#000" stroke-width="2.3"/>
<circle cx="573.4" cy="639.9" r="5.6" fill="none" stroke="#000" stroke-width="2.3"/>
<circle cx="575.9" cy="643.1" r="5.6" fill="none" stroke="#000" stroke-width="2.3"/>
<circle cx="571.0" cy="642.9" r="5.6" fill="none" stroke="#000" stroke-width="2.3"/>
<circle cx="573.4" cy="643.9" r="5.6" fill="none" stroke="#000" stroke-width="2.3"/>
<circle cx="572.9" cy="645.7" r="5.6" fill="none" stroke="#000" stroke-width="2.3"/>
<circle cx="575.5" cy="647.4" r="5.6" fill="none" stroke="#000" stroke-width="2.3"/>
<circle cx="571.0" cy="644.8" r="5.6" fill="none" stroke="#000" stroke-width="2.3"/>
<circle cx="574.3" cy="649.1" r="5.6" fill="none" stroke="#000" stroke-width="2.3"/>
<circle cx="573.9" cy="649.5" r="5.6" fill="none" stroke="#000" stroke-width="2.3"/>
<circle cx="573.3" cy="647.2" r="5.6" fill="none" stroke="#000" stroke-width="2.3"/>
<circle cx="558.7" cy="622.9" r="5.6" fill="none" stroke="#000" stroke-width="2.3"/>
<circle cx="559.6" cy="618.9" r="5.6" fill="none" stroke="#000" stroke-width="2.3"/>
<circle cx="562.9" cy="623.0" r="5.6" fill="none" stroke="#000" stroke-width="2.3"/>
<circle cx="558.0" cy="622.7" r="5.6" fill="none" stroke="#000" stroke-width="2.3"/>
<circle cx="561.3" cy="621.9" r="5.6" fill="none" stroke="#000" stroke-width="2.3"/>
<circle cx="558.2" cy="623.2" r="5.6" fill="none" stroke="#000" stroke-width="2.3"/>
<circle cx="567.0" cy="626.0" r="5.6" fill="none" stroke="#000" stroke-width="2.3"/>
<circle cx="563.0" cy="624.6" r="5.6" fill="none" stroke="#000" stroke-width="2.3"/>
<circle cx="567.5" cy="627.9" r="5.6" fill="none" stroke="#000" stroke-width="2.3"/>
<circle cx="559.4" cy="627.6" r="5.6" fill="none" stroke="#000" stroke-width="2.3"/>
<circle cx="563.3" cy="627.1" r="5.6" fill="none" stroke="#000" stroke-width="2.3"/>
<circle cx="568.2" cy="627.7" r="5.6" fill="none" stroke="#000" stroke-width="2.3"/>
<circle cx="563.1" cy="629.4" r="5.6" fill="none" stroke="#000" stroke-width="2.3"/>
<circle cx="562.2" cy="632.8" r="5.6" fill="none" stroke="#000" stroke-width="2.3"/>
<circle cx="565.3" cy="630.1" r="5.6" fill="none" stroke="#000" stroke-width="2.3"/>
<circle cx="563.9" cy="634.8" r="5.6" fill="none" stroke="#000" stroke-width="2.3"/>
<circle cx="563.2" cy="634.9" r="5.6" fill="none" stroke="#000" stroke-width="2.3"/>
<circle cx="570.1" cy="634.0" r="5.6" fill="none" stroke="#000" stroke-width="2.3"/>
<circle cx="581.8" cy="626.8" r="5.6" fill="none" stroke="#000" stroke-width="2.3"/>
<circle cx="585.2" cy="627.0" r="5.6" fill="none" stroke="#000" stroke-width="2.3"/>
<circle cx="582.0" cy="631.1" r="5.6" fill="none" stroke="#000" stroke-width="2.3"/>
<circle cx="581.4" cy="628.3" r="5.6" fill="none" stroke="#000" stroke-width="2.3"/>
<circle cx="585.3" cy="632.8" r="5.6" fill="none" stroke="#000" stroke-width="2.3"/>
<circle cx="585.9" cy="634.2" r="5.6" fill="none" stroke="#000" stroke-width="2.3"/>
<circle cx="582.5" cy="634.9" r="5.6" fill="none" stroke="#000" stroke-width="2.3"/>
<circle cx="582.0" cy="635.1" r="5.6" fill="none" stroke="#000" stroke-width="2.3"/>
<circle cx="583.6" cy="634.6" r="5.6" fill="none" stroke="#000" stroke-width="2.3"/>
<circle cx="582.1" cy="635.2" r="5.6" fill="none" stroke="#000" stroke-width="2.3"/>
<circle cx="586.4" cy="635.7" r="5.6" fill="none" stroke="#000" stroke-width="2.3"/>
<circle cx="583.2" cy="637.4" r="5.6" fill="none" stroke="#000" stroke-width="2.3"/>
<circle cx="565.3" cy="634.3" r="5.6" fill="none" stroke="#000" stroke-width="2.3"/>
<circle cx="563.6" cy="634.6" r="5.6" fill="none" stroke="#000" stroke-width="2.3"/>
<circle cx="563.1" cy="636.3" r="5.6" fill="none" stroke="#000" stroke-width="2.3"/>
<circle cx="562.9" cy="637.6" r="5.6" fill="none" stroke="#000" stroke-width="2.3"/>
<circle cx="568.1" cy="637.1" r="5.6" fill="none" stroke="#000" stroke-width="2.3"/>
<circle cx="564.3" cy="641.3" r="5.6" fill="none" stroke="#000" stroke-width="2.3"/>
<circle cx="569.3" cy="642.4" r="5.6" fill="none" stroke="#000" stroke-width="2.3"/>
<circle cx="567.2" cy="643.8" r="5.6" fill="none" stroke="#000" stroke-width="2.3"/>
<circle cx="568.1" cy="644.2" r="5.6" fill="none" stroke="#000" stroke-width="2.3"/>
<circle cx="568.7" cy="642.0" r="5.6" fill="none" stroke="#000" stroke-width="2.3"/>
<circle cx="555.8" cy="622.5" r="5.6" fill="none" stroke="#000" stroke-width="2.3"/>
<circle cx="560" cy="626.7" r="5.6" fill="none" stroke="#000" stroke-width="2.3"/>
<circle cx="585" cy="631.7" r="5.6" fill="none" stroke="#000" stroke-width="2.3"/>
<circle cx="588" cy="634" r="5.6" fill="none" stroke="#000" stroke-width="2.3"/>
<circle cx="587.5" cy="648" r="5.6" fill="none" stroke="#000" stroke-width="2.3"/>
<circle cx="583.3" cy="647.5" r="5.6" fill="none" stroke="#000" stroke-width="2.3"/>
<circle cx="557" cy="617" r="5.6" fill="none" stroke="#000" stroke-width="2.3"/>
<circle cx="559" cy="612" r="5.6" fill="none" stroke="#000" stroke-width="2.3"/>
<circle cx="550.8" cy="650.8" r="5.6" fill="none" stroke="#000" stroke-width="2.3"/>
<circle cx="558" cy="652" r="5.6" fill="none" stroke="#000" stroke-width="2.3"/>
<circle cx="566.7" cy="655" r="5.6" fill="none" stroke="#000" stroke-width="2.3"/>
<circle cx="575" cy="656.7" r="5.6" fill="none" stroke="#000" stroke-width="2.3"/>
<circle cx="530" cy="659.2" r="5.6" fill="none" stroke="#000" stroke-width="2.3"/>
<circle cx="533.3" cy="658.3" r="5.6" fill="none" stroke="#000" stroke-width="2.3"/>
<circle cx="536.7" cy="657.5" r="5.6" fill="none" stroke="#000" stroke-width="2.3"/>
<circle cx="546.7" cy="659.2" r="5.6" fill="none" stroke="#000" stroke-width="2.3"/>
<circle cx="571.7" cy="663.3" r="5.6" fill="none" stroke="#000" stroke-width="2.3"/>
<circle cx="565" cy="666.7" r="5.6" fill="none" stroke="#000" stroke-width="2.3"/>
<circle cx="553" cy="655" r="5.6" fill="none" stroke="#000" stroke-width="2.3"/>
<circle cx="561" cy="657.5" r="5.6" fill="none" stroke="#000" stroke-width="2.3"/>
<circle cx="556" cy="660" r="5.6" fill="none" stroke="#000" stroke-width="2.3"/>
<circle cx="551" cy="662" r="5.6" fill="none" stroke="#000" stroke-width="2.3"/>
<circle cx="563" cy="661" r="5.6" fill="none" stroke="#000" stroke-width="2.3"/>
<circle cx="569" cy="659" r="5.6" fill="none" stroke="#000" stroke-width="2.3"/>
<circle cx="548" cy="656" r="5.6" fill="none" stroke="#000" stroke-width="2.3"/>
<circle cx="559" cy="664" r="5.6" fill="none" stroke="#000" stroke-width="2.3"/>
<circle cx="573.3" cy="665" r="5.6" fill="none" stroke="#000" stroke-width="2.3"/>
<circle cx="568.3" cy="666.7" r="5.6" fill="none" stroke="#000" stroke-width="2.3"/>
<circle cx="545" cy="663" r="5.6" fill="none" stroke="#000" stroke-width="2.3"/>
<circle cx="541" cy="661" r="5.6" fill="none" stroke="#000" stroke-width="2.3"/>
<circle cx="552.6" cy="665.2" r="5.6" fill="none" stroke="#000" stroke-width="2.3"/>
<circle cx="544.6" cy="663.8" r="5.6" fill="none" stroke="#000" stroke-width="2.3"/>
<circle cx="554.6" cy="668.8" r="5.6" fill="none" stroke="#000" stroke-width="2.3"/>
<circle cx="548.4" cy="666.5" r="5.6" fill="none" stroke="#000" stroke-width="2.3"/>
<circle cx="556.1" cy="665.9" r="5.6" fill="none" stroke="#000" stroke-width="2.3"/>
<circle cx="555.3" cy="670.8" r="5.6" fill="none" stroke="#000" stroke-width="2.3"/>
<circle cx="554.8" cy="668.7" r="5.6" fill="none" stroke="#000" stroke-width="2.3"/>
<circle cx="553.0" cy="672.1" r="5.6" fill="none" stroke="#000" stroke-width="2.3"/>
<circle cx="552.1" cy="672.7" r="5.6" fill="none" stroke="#000" stroke-width="2.3"/>
<circle cx="551.6" cy="669.2" r="5.6" fill="none" stroke="#000" stroke-width="2.3"/>
<circle cx="565" cy="676.7" r="5.6" fill="none" stroke="#000" stroke-width="2.3"/>
<circle cx="560" cy="678.3" r="5.6" fill="none" stroke="#000" stroke-width="2.3"/>
<circle cx="555" cy="680" r="5.6" fill="none" stroke="#000" stroke-width="2.3"/>
<circle cx="566.7" cy="676.7" r="5.6" fill="none" stroke="#000" stroke-width="2.3"/>
<circle cx="561" cy="672" r="5.6" fill="none" stroke="#000" stroke-width="2.3"/>
<circle cx="558" cy="675" r="5.6" fill="none" stroke="#000" stroke-width="2.3"/>
<circle cx="552" cy="677" r="5.6" fill="none" stroke="#000" stroke-width="2.3"/>
<circle cx="549.3" cy="670.5" r="5.6" fill="none" stroke="#000" stroke-width="2.3"/>
<circle cx="554.7" cy="666.1" r="5.6" fill="none" stroke="#000" stroke-width="2.3"/>
<circle cx="546.4" cy="668.0" r="5.6" fill="none" stroke="#000" stroke-width="2.3"/>
<circle cx="548.9" cy="666.9" r="5.6" fill="none" stroke="#000" stroke-width="2.3"/>
<circle cx="550.0" cy="670.4" r="5.6" fill="none" stroke="#000" stroke-width="2.3"/>
<circle cx="551.5" cy="671.0" r="5.6" fill="none" stroke="#000" stroke-width="2.3"/>
<circle cx="551.1" cy="668.7" r="5.6" fill="none" stroke="#000" stroke-width="2.3"/>
<circle cx="546.3" cy="672.5" r="5.6" fill="none" stroke="#000" stroke-width="2.3"/>
<circle cx="544.8" cy="669.4" r="5.6" fill="none" stroke="#000" stroke-width="2.3"/>
<circle cx="550.1" cy="672.3" r="5.6" fill="none" stroke="#000" stroke-width="2.3"/>
<circle cx="545.1" cy="675.7" r="5.6" fill="none" stroke="#000" stroke-width="2.3"/>
<circle cx="543.1" cy="675.0" r="5.6" fill="none" stroke="#000" stroke-width="2.3"/>
<circle cx="549.4" cy="670.6" r="5.6" fill="none" stroke="#000" stroke-width="2.3"/>
<circle cx="547.5" cy="676.3" r="5.6" fill="none" stroke="#000" stroke-width="2.3"/>
<circle cx="539.8" cy="673.1" r="5.6" fill="none" stroke="#000" stroke-width="2.3"/>
<circle cx="540.9" cy="678.1" r="5.6" fill="none" stroke="#000" stroke-width="2.3"/>
<circle cx="547.0" cy="674.6" r="5.6" fill="none" stroke="#000" stroke-width="2.3"/>
<circle cx="542.1" cy="674.4" r="5.6" fill="none" stroke="#000" stroke-width="2.3"/>
<circle cx="546.1" cy="673.8" r="5.6" fill="none" stroke="#000" stroke-width="2.3"/>
<circle cx="542.7" cy="675.0" r="5.6" fill="none" stroke="#000" stroke-width="2.3"/>
<circle cx="538.0" cy="675.4" r="5.6" fill="none" stroke="#000" stroke-width="2.3"/>
<circle cx="541.7" cy="679.0" r="5.6" fill="none" stroke="#000" stroke-width="2.3"/>
<circle cx="535.9" cy="677.2" r="5.6" fill="none" stroke="#000" stroke-width="2.3"/>
<circle cx="536.9" cy="677.8" r="5.6" fill="none" stroke="#000" stroke-width="2.3"/>
<circle cx="542.0" cy="679.8" r="5.6" fill="none" stroke="#000" stroke-width="2.3"/>
<circle cx="535.3" cy="679.2" r="5.6" fill="none" stroke="#000" stroke-width="2.3"/>
<circle cx="539.5" cy="677.8" r="5.6" fill="none" stroke="#000" stroke-width="2.3"/>
<circle cx="539.7" cy="680.4" r="5.6" fill="none" stroke="#000" stroke-width="2.3"/>
<circle cx="535.7" cy="684.7" r="5.6" fill="none" stroke="#000" stroke-width="2.3"/>
<circle cx="537.6" cy="681.0" r="5.6" fill="none" stroke="#000" stroke-width="2.3"/>
<circle cx="539.1" cy="684.6" r="5.6" fill="none" stroke="#000" stroke-width="2.3"/>
<circle cx="534.6" cy="683.7" r="5.6" fill="none" stroke="#000" stroke-width="2.3"/>
<circle cx="533.0" cy="685.0" r="5.6" fill="none" stroke="#000" stroke-width="2.3"/>
<circle cx="537.4" cy="683.1" r="5.6" fill="none" stroke="#000" stroke-width="2.3"/>
<circle cx="534.6" cy="682.5" r="5.6" fill="none" stroke="#000" stroke-width="2.3"/>
<circle cx="534.9" cy="685.1" r="5.6" fill="none" stroke="#000" stroke-width="2.3"/>
<circle cx="531.4" cy="685.7" r="5.6" fill="none" stroke="#000" stroke-width="2.3"/>
<circle cx="533.6" cy="683.7" r="5.6" fill="none" stroke="#000" stroke-width="2.3"/>
<circle cx="533.2" cy="688.0" r="5.6" fill="none" stroke="#000" stroke-width="2.3"/>
<circle cx="532.6" cy="687.8" r="5.6" fill="none" stroke="#000" stroke-width="2.3"/>
<circle cx="530.1" cy="685.2" r="5.6" fill="none" stroke="#000" stroke-width="2.3"/>
<circle cx="534.3" cy="687.4" r="5.6" fill="none" stroke="#000" stroke-width="2.3"/>
<circle cx="533.8" cy="687.2" r="5.6" fill="none" stroke="#000" stroke-width="2.3"/>
<circle cx="531.3" cy="690.1" r="5.6" fill="none" stroke="#000" stroke-width="2.3"/>
<circle cx="532.0" cy="687.3" r="5.6" fill="none" stroke="#000" stroke-width="2.3"/>
<circle cx="531.8" cy="690.9" r="5.6" fill="none" stroke="#000" stroke-width="2.3"/>
<circle cx="527.6" cy="689.2" r="5.6" fill="none" stroke="#000" stroke-width="2.3"/>
<circle cx="528.1" cy="688.4" r="5.6" fill="none" stroke="#000" stroke-width="2.3"/>
<circle cx="529.7" cy="692.6" r="5.6" fill="none" stroke="#000" stroke-width="2.3"/>
<circle cx="528.3" cy="692.3" r="5.6" fill="none" stroke="#000" stroke-width="2.3"/>
<circle cx="529.5" cy="689.6" r="5.6" fill="none" stroke="#000" stroke-width="2.3"/>
<circle cx="527.3" cy="692.6" r="5.6" fill="none" stroke="#000" stroke-width="2.3"/>
<circle cx="526.6" cy="692.3" r="5.6" fill="none" stroke="#000" stroke-width="2.3"/>
<circle cx="526.6" cy="692.5" r="5.6" fill="none" stroke="#000" stroke-width="2.3"/>
<circle cx="523.5" cy="693.5" r="5.6" fill="none" stroke="#000" stroke-width="2.3"/>
<circle cx="523.5" cy="694.4" r="5.6" fill="none" stroke="#000" stroke-width="2.3"/>
<circle cx="523.4" cy="693.3" r="5.6" fill="none" stroke="#000" stroke-width="2.3"/>
<circle cx="521.5" cy="693.5" r="5.6" fill="none" stroke="#000" stroke-width="2.3"/>
<circle cx="520.7" cy="695.0" r="5.6" fill="none" stroke="#000" stroke-width="2.3"/>
<circle cx="519.7" cy="696.1" r="5.6" fill="none" stroke="#000" stroke-width="2.3"/>
<circle cx="521.6" cy="696.9" r="5.6" fill="none" stroke="#000" stroke-width="2.3"/>
<circle cx="518.2" cy="696.7" r="5.6" fill="none" stroke="#000" stroke-width="2.3"/>
<circle cx="520.8" cy="696.0" r="5.6" fill="none" stroke="#000" stroke-width="2.3"/>
<circle cx="519.9" cy="698.5" r="5.6" fill="none" stroke="#000" stroke-width="2.3"/>
<circle cx="516.3" cy="699.7" r="5.6" fill="none" stroke="#000" stroke-width="2.3"/>
<circle cx="518.6" cy="699.7" r="5.6" fill="none" stroke="#000" stroke-width="2.3"/>
<circle cx="517.6" cy="699.6" r="5.6" fill="none" stroke="#000" stroke-width="2.3"/>
<circle cx="515.5" cy="699.5" r="5.6" fill="none" stroke="#000" stroke-width="2.3"/>
<circle cx="515.7" cy="698.8" r="5.6" fill="none" stroke="#000" stroke-width="2.3"/>
<circle cx="512.4" cy="699.8" r="5.6" fill="none" stroke="#000" stroke-width="2.3"/>
<circle cx="511.4" cy="699.7" r="5.6" fill="none" stroke="#000" stroke-width="2.3"/>
<circle cx="510.9" cy="699.4" r="5.6" fill="none" stroke="#000" stroke-width="2.3"/>
<circle cx="509.6" cy="701.9" r="5.6" fill="none" stroke="#000" stroke-width="2.3"/>
<circle cx="510.0" cy="700.6" r="5.6" fill="none" stroke="#000" stroke-width="2.3"/>
<circle cx="507.0" cy="701.8" r="5.6" fill="none" stroke="#000" stroke-width="2.3"/>
<circle cx="506.6" cy="703.0" r="5.6" fill="none" stroke="#000" stroke-width="2.3"/>
<circle cx="506.1" cy="703.4" r="5.6" fill="none" stroke="#000" stroke-width="2.3"/>
<circle cx="506.3" cy="703.1" r="5.6" fill="none" stroke="#000" stroke-width="2.3"/>
<circle cx="504.5" cy="702.6" r="5.6" fill="none" stroke="#000" stroke-width="2.3"/>
<circle cx="503.2" cy="703.2" r="5.6" fill="none" stroke="#000" stroke-width="2.3"/>
<circle cx="496.7" cy="704.2" r="5.6" fill="none" stroke="#000" stroke-width="2.3"/>
<circle cx="490" cy="705.8" r="5.6" fill="none" stroke="#000" stroke-width="2.3"/>
<circle cx="486.7" cy="707.5" r="5.6" fill="none" stroke="#000" stroke-width="2.3"/>
<circle cx="480" cy="710" r="5.6" fill="none" stroke="#000" stroke-width="2.3"/>
<circle cx="475.8" cy="709.2" r="5.6" fill="none" stroke="#000" stroke-width="2.3"/>
<circle cx="471.7" cy="712.5" r="5.6" fill="none" stroke="#000" stroke-width="2.3"/>
<circle cx="460" cy="717.5" r="5.6" fill="none" stroke="#000" stroke-width="2.3"/>
<circle cx="452.5" cy="713.3" r="5.6" fill="none" stroke="#000" stroke-width="2.3"/>
<circle cx="455" cy="728.3" r="5.6" fill="none" stroke="#000" stroke-width="2.3"/>
<circle cx="448.3" cy="720" r="5.6" fill="none" stroke="#000" stroke-width="2.3"/>
<circle cx="445" cy="725" r="5.6" fill="none" stroke="#000" stroke-width="2.3"/>
<circle cx="441.7" cy="721.7" r="5.6" fill="none" stroke="#000" stroke-width="2.3"/>
<circle cx="450" cy="726.7" r="5.6" fill="none" stroke="#000" stroke-width="2.3"/>
<circle cx="440" cy="726.7" r="5.6" fill="none" stroke="#000" stroke-width="2.3"/>
<circle cx="446.7" cy="730" r="5.6" fill="none" stroke="#000" stroke-width="2.3"/>
<circle cx="435" cy="728.3" r="5.6" fill="none" stroke="#000" stroke-width="2.3"/>
<circle cx="443" cy="718" r="5.6" fill="none" stroke="#000" stroke-width="2.3"/>
<circle cx="451" cy="723.5" r="5.6" fill="none" stroke="#000" stroke-width="2.3"/>
<circle cx="414.2" cy="729.2" r="5.6" fill="none" stroke="#000" stroke-width="2.3"/>
<circle cx="425" cy="733.3" r="5.6" fill="none" stroke="#000" stroke-width="2.3"/>
<circle cx="420" cy="738.3" r="5.6" fill="none" stroke="#000" stroke-width="2.3"/>
<circle cx="410" cy="740" r="5.6" fill="none" stroke="#000" stroke-width="2.3"/>
<circle cx="405" cy="745" r="5.6" fill="none" stroke="#000" stroke-width="2.3"/>
<circle cx="412.1" cy="733.9" r="5.6" fill="none" stroke="#000" stroke-width="2.3"/>
<circle cx="409.3" cy="737.5" r="5.6" fill="none" stroke="#000" stroke-width="2.3"/>
<circle cx="409.9" cy="738.7" r="5.6" fill="none" stroke="#000" stroke-width="2.3"/>
<circle cx="408.0" cy="736.7" r="5.6" fill="none" stroke="#000" stroke-width="2.3"/>
<circle cx="405.1" cy="736.5" r="5.6" fill="none" stroke="#000" stroke-width="2.3"/>
<circle cx="404.1" cy="739.1" r="5.6" fill="none" stroke="#000" stroke-width="2.3"/>
<circle cx="401.3" cy="738.7" r="5.6" fill="none" stroke="#000" stroke-width="2.3"/>
<circle cx="399.6" cy="738.4" r="5.6" fill="none" stroke="#000" stroke-width="2.3"/>
<circle cx="398.8" cy="740.4" r="5.6" fill="none" stroke="#000" stroke-width="2.3"/>
<circle cx="400.0" cy="741.4" r="5.6" fill="none" stroke="#000" stroke-width="2.3"/>
<circle cx="398.4" cy="741.6" r="5.6" fill="none" stroke="#000" stroke-width="2.3"/>
<circle cx="397.6" cy="741.4" r="5.6" fill="none" stroke="#000" stroke-width="2.3"/>
<circle cx="393.7" cy="743.5" r="5.6" fill="none" stroke="#000" stroke-width="2.3"/>
<circle cx="393.1" cy="743.6" r="5.6" fill="none" stroke="#000" stroke-width="2.3"/>
<circle cx="390.0" cy="744.9" r="5.6" fill="none" stroke="#000" stroke-width="2.3"/>
<circle cx="388.9" cy="745.7" r="5.6" fill="none" stroke="#000" stroke-width="2.3"/>
<circle cx="388.9" cy="746.6" r="5.6" fill="none" stroke="#000" stroke-width="2.3"/>
<circle cx="387.3" cy="744.7" r="5.6" fill="none" stroke="#000" stroke-width="2.3"/>
<circle cx="384.0" cy="746.2" r="5.6" fill="none" stroke="#000" stroke-width="2.3"/>
<circle cx="383.8" cy="745.8" r="5.6" fill="none" stroke="#000" stroke-width="2.3"/>
<circle cx="382.0" cy="747.1" r="5.6" fill="none" stroke="#000" stroke-width="2.3"/>
<circle cx="379.8" cy="749.0" r="5.6" fill="none" stroke="#000" stroke-width="2.3"/>
<circle cx="378.2" cy="748.6" r="5.6" fill="none" stroke="#000" stroke-width="2.3"/>
<circle cx="375.5" cy="748.7" r="5.6" fill="none" stroke="#000" stroke-width="2.3"/>
<circle cx="374.5" cy="752.0" r="5.6" fill="none" stroke="#000" stroke-width="2.3"/>
<circle cx="373.9" cy="752.4" r="5.6" fill="none" stroke="#000" stroke-width="2.3"/>
<circle cx="373.1" cy="751.5" r="5.6" fill="none" stroke="#000" stroke-width="2.3"/>
<circle cx="369.9" cy="751.3" r="5.6" fill="none" stroke="#000" stroke-width="2.3"/>
<circle cx="369.0" cy="753.7" r="5.6" fill="none" stroke="#000" stroke-width="2.3"/>
<circle cx="367.8" cy="754.5" r="5.6" fill="none" stroke="#000" stroke-width="2.3"/>
<circle cx="365.7" cy="753.9" r="5.6" fill="none" stroke="#000" stroke-width="2.3"/>
<circle cx="363.3" cy="754.2" r="5.6" fill="none" stroke="#000" stroke-width="2.3"/>
<circle cx="362.8" cy="754.6" r="5.6" fill="none" stroke="#000" stroke-width="2.3"/>
<circle cx="358.3" cy="755.5" r="5.6" fill="none" stroke="#000" stroke-width="2.3"/>
<circle cx="359.1" cy="758.3" r="5.6" fill="none" stroke="#000" stroke-width="2.3"/>
<circle cx="355.7" cy="758.9" r="5.6" fill="none" stroke="#000" stroke-width="2.3"/>
<circle cx="354.1" cy="759.5" r="5.6" fill="none" stroke="#000" stroke-width="2.3"/>
<circle cx="353.2" cy="759.4" r="5.6" fill="none" stroke="#000" stroke-width="2.3"/>
<circle cx="350.4" cy="760.8" r="5.6" fill="none" stroke="#000" stroke-width="2.3"/>
<circle cx="350.0" cy="759.9" r="5.6" fill="none" stroke="#000" stroke-width="2.3"/>
<circle cx="348.2" cy="759.8" r="5.6" fill="none" stroke="#000" stroke-width="2.3"/>
<circle cx="348.1" cy="759.1" r="5.6" fill="none" stroke="#000" stroke-width="2.3"/>
<circle cx="344.1" cy="759.9" r="5.6" fill="none" stroke="#000" stroke-width="2.3"/>
<circle cx="345.1" cy="761.4" r="5.6" fill="none" stroke="#000" stroke-width="2.3"/>
<circle cx="340.8" cy="761.1" r="5.6" fill="none" stroke="#000" stroke-width="2.3"/>
<circle cx="339.9" cy="764.4" r="5.6" fill="none" stroke="#000" stroke-width="2.3"/>
<circle cx="336.4" cy="764.8" r="5.6" fill="none" stroke="#000" stroke-width="2.3"/>
<circle cx="336.9" cy="766.2" r="5.6" fill="none" stroke="#000" stroke-width="2.3"/>
<circle cx="332.4" cy="767.3" r="5.6" fill="none" stroke="#000" stroke-width="2.3"/>
<circle cx="332.7" cy="765.3" r="5.6" fill="none" stroke="#000" stroke-width="2.3"/>
<circle cx="329.4" cy="765.5" r="5.6" fill="none" stroke="#000" stroke-width="2.3"/>
<circle cx="328.6" cy="768.7" r="5.6" fill="none" stroke="#000" stroke-width="2.3"/>
<circle cx="326.2" cy="768.1" r="5.6" fill="none" stroke="#000" stroke-width="2.3"/>
<circle cx="323.8" cy="770.2" r="5.6" fill="none" stroke="#000" stroke-width="2.3"/>
<circle cx="322.5" cy="769.7" r="5.6" fill="none" stroke="#000" stroke-width="2.3"/>
<circle cx="322.3" cy="769.2" r="5.6" fill="none" stroke="#000" stroke-width="2.3"/>
<circle cx="320.0" cy="770.2" r="5.6" fill="none" stroke="#000" stroke-width="2.3"/>
<circle cx="318.2" cy="772.8" r="5.6" fill="none" stroke="#000" stroke-width="2.3"/>
<circle cx="315.6" cy="771.6" r="5.6" fill="none" stroke="#000" stroke-width="2.3"/>
<circle cx="315.8" cy="771.9" r="5.6" fill="none" stroke="#000" stroke-width="2.3"/>
<circle cx="313.1" cy="772.1" r="5.6" fill="none" stroke="#000" stroke-width="2.3"/>
<circle cx="309.9" cy="774.9" r="5.6" fill="none" stroke="#000" stroke-width="2.3"/>
<circle cx="308.6" cy="773.0" r="5.6" fill="none" stroke="#000" stroke-width="2.3"/>
<circle cx="308.6" cy="773.1" r="5.6" fill="none" stroke="#000" stroke-width="2.3"/>
<circle cx="305.8" cy="776.4" r="5.6" fill="none" stroke="#000" stroke-width="2.3"/>
<circle cx="304.3" cy="775.3" r="5.6" fill="none" stroke="#000" stroke-width="2.3"/>
<circle cx="301.1" cy="778.2" r="5.6" fill="none" stroke="#000" stroke-width="2.3"/>
<circle cx="299.8" cy="777.7" r="5.6" fill="none" stroke="#000" stroke-width="2.3"/>
<circle cx="298.0" cy="778.0" r="5.6" fill="none" stroke="#000" stroke-width="2.3"/>
<circle cx="289.6" cy="780.2" r="5.6" fill="none" stroke="#000" stroke-width="2.3"/>
<circle cx="285.8" cy="780.4" r="5.6" fill="none" stroke="#000" stroke-width="2.3"/>
<circle cx="283.4" cy="782.8" r="5.6" fill="none" stroke="#000" stroke-width="2.3"/>
<circle cx="282.8" cy="780.7" r="5.6" fill="none" stroke="#000" stroke-width="2.3"/>
<circle cx="278.6" cy="784.5" r="5.6" fill="none" stroke="#000" stroke-width="2.3"/>
<circle cx="276.1" cy="785.5" r="5.6" fill="none" stroke="#000" stroke-width="2.3"/>
<circle cx="274.3" cy="785.1" r="5.6" fill="none" stroke="#000" stroke-width="2.3"/>
<circle cx="272.0" cy="786.7" r="5.6" fill="none" stroke="#000" stroke-width="2.3"/>
<circle cx="269.5" cy="785.6" r="5.6" fill="none" stroke="#000" stroke-width="2.3"/>
<circle cx="269.3" cy="787.8" r="5.6" fill="none" stroke="#000" stroke-width="2.3"/>
<circle cx="267.3" cy="788.4" r="5.6" fill="none" stroke="#000" stroke-width="2.3"/>
<circle cx="263.7" cy="788.5" r="5.6" fill="none" stroke="#000" stroke-width="2.3"/>
<circle cx="261.2" cy="788.8" r="5.6" fill="none" stroke="#000" stroke-width="2.3"/>
<circle cx="261.0" cy="791.1" r="5.6" fill="none" stroke="#000" stroke-width="2.3"/>
<circle cx="257.5" cy="790.2" r="5.6" fill="none" stroke="#000" stroke-width="2.3"/>
<circle cx="255.9" cy="790.9" r="5.6" fill="none" stroke="#000" stroke-width="2.3"/>
<circle cx="253.2" cy="793.8" r="5.6" fill="none" stroke="#000" stroke-width="2.3"/>
<circle cx="247.5" cy="794.2" r="5.6" fill="none" stroke="#000" stroke-width="2.3"/>
<circle cx="221.7" cy="794.2" r="5.6" fill="none" stroke="#000" stroke-width="2.3"/>
<circle cx="225.8" cy="798.3" r="5.6" fill="none" stroke="#000" stroke-width="2.3"/>
<circle cx="219.2" cy="806.7" r="5.6" fill="none" stroke="#000" stroke-width="2.3"/>
<circle cx="216.3" cy="808.75" r="5.6" fill="none" stroke="#000" stroke-width="2.3"/>
<circle cx="215" cy="810" r="5.6" fill="none" stroke="#000" stroke-width="2.3"/>
<circle cx="212.5" cy="810" r="5.6" fill="none" stroke="#000" stroke-width="2.3"/>
<circle cx="210" cy="807.5" r="5.6" fill="none" stroke="#000" stroke-width="2.3"/>
<circle cx="201.9" cy="804.4" r="5.6" fill="none" stroke="#000" stroke-width="2.3"/>
<circle cx="200" cy="808.75" r="5.6" fill="none" stroke="#000" stroke-width="2.3"/>
<circle cx="196.3" cy="812.5" r="5.6" fill="none" stroke="#000" stroke-width="2.3"/>
<circle cx="191" cy="811" r="5.6" fill="none" stroke="#000" stroke-width="2.3"/>
<circle cx="186.3" cy="813.75" r="5.6" fill="none" stroke="#000" stroke-width="2.3"/>
<circle cx="182.5" cy="813" r="5.6" fill="none" stroke="#000" stroke-width="2.3"/>
<circle cx="175.6" cy="800.6" r="5.6" fill="none" stroke="#000" stroke-width="2.3"/>
<circle cx="183.75" cy="824.4" r="5.6" fill="none" stroke="#000" stroke-width="2.3"/>
<circle cx="181.25" cy="822.5" r="5.6" fill="none" stroke="#000" stroke-width="2.3"/>
<circle cx="175" cy="816.25" r="5.6" fill="none" stroke="#000" stroke-width="2.3"/>
<circle cx="167.5" cy="817.5" r="5.6" fill="none" stroke="#000" stroke-width="2.3"/>
<circle cx="160" cy="818.75" r="5.6" fill="none" stroke="#000" stroke-width="2.3"/>
<circle cx="168.1" cy="825" r="5.6" fill="none" stroke="#000" stroke-width="2.3"/>
<circle cx="158.75" cy="826.25" r="5.6" fill="none" stroke="#000" stroke-width="2.3"/>
<circle cx="150" cy="822.5" r="5.6" fill="none" stroke="#000" stroke-width="2.3"/>
<circle cx="153.75" cy="825" r="5.6" fill="none" stroke="#000" stroke-width="2.3"/>
<circle cx="148.75" cy="827.5" r="5.6" fill="none" stroke="#000" stroke-width="2.3"/>
<circle cx="142.5" cy="830" r="5.6" fill="none" stroke="#000" stroke-width="2.3"/>
<circle cx="140" cy="832.5" r="5.6" fill="none" stroke="#000" stroke-width="2.3"/>
<circle cx="137.5" cy="835" r="5.6" fill="none" stroke="#000" stroke-width="2.3"/>
<circle cx="133.75" cy="836.25" r="5.6" fill="none" stroke="#000" stroke-width="2.3"/>
<circle cx="130" cy="836.9" r="5.6" fill="none" stroke="#000" stroke-width="2.3"/>
<circle cx="128.75" cy="837.5" r="5.6" fill="none" stroke="#000" stroke-width="2.3"/>
<circle cx="205" cy="806" r="5.6" fill="none" stroke="#000" stroke-width="2.3"/>
<circle cx="193" cy="809" r="5.6" fill="none" stroke="#000" stroke-width="2.3"/>
<circle cx="188" cy="812" r="5.6" fill="none" stroke="#000" stroke-width="2.3"/>
<circle cx="178" cy="815" r="5.6" fill="none" stroke="#000" stroke-width="2.3"/>
<circle cx="171" cy="817" r="5.6" fill="none" stroke="#000" stroke-width="2.3"/>
<circle cx="164" cy="819" r="5.6" fill="none" stroke="#000" stroke-width="2.3"/>
<circle cx="156" cy="822" r="5.6" fill="none" stroke="#000" stroke-width="2.3"/>
<circle cx="163" cy="823" r="5.6" fill="none" stroke="#000" stroke-width="2.3"/>
<circle cx="170" cy="821" r="5.6" fill="none" stroke="#000" stroke-width="2.3"/>
<circle cx="146" cy="826" r="5.6" fill="none" stroke="#000" stroke-width="2.3"/>
<circle cx="152" cy="820" r="5.6" fill="none" stroke="#000" stroke-width="2.3"/>
<circle cx="207" cy="809" r="5.6" fill="none" stroke="#000" stroke-width="2.3"/>
<line x1="111.5" y1="813.6" x2="608" y2="813.6" stroke="#d3d3d3" stroke-width="1.75" stroke-dasharray="1.7 6.3" stroke-linecap="round"/>
<line x1="111.5" y1="760.0" x2="608" y2="760.0" stroke="#d3d3d3" stroke-width="1.75" stroke-dasharray="1.7 6.3" stroke-linecap="round"/>
<line x1="111.5" y1="706.4000000000001" x2="608" y2="706.4000000000001" stroke="#d3d3d3" stroke-width="1.75" stroke-dasharray="1.7 6.3" stroke-linecap="round"/>
<line x1="111.5" y1="652.8000000000001" x2="608" y2="652.8000000000001" stroke="#d3d3d3" stroke-width="1.75" stroke-dasharray="1.7 6.3" stroke-linecap="round"/>
<line x1="111.5" y1="599.2" x2="608" y2="599.2" stroke="#d3d3d3" stroke-width="1.75" stroke-dasharray="1.7 6.3" stroke-linecap="round"/>
<line x1="111.5" y1="545.6" x2="608" y2="545.6" stroke="#d3d3d3" stroke-width="1.75" stroke-dasharray="1.7 6.3" stroke-linecap="round"/>
<line x1="190.09999999999854" y1="543.7" x2="190.09999999999854" y2="848" stroke="#d3d3d3" stroke-width="1.75" stroke-dasharray="1.7 6.3" stroke-linecap="round"/>
<line x1="293.4" y1="543.7" x2="293.4" y2="848" stroke="#d3d3d3" stroke-width="1.75" stroke-dasharray="1.7 6.3" stroke-linecap="round"/>
<line x1="396.7000000000014" y1="543.7" x2="396.7000000000014" y2="848" stroke="#d3d3d3" stroke-width="1.75" stroke-dasharray="1.7 6.3" stroke-linecap="round"/>
<line x1="499.9999999999992" y1="543.7" x2="499.9999999999992" y2="848" stroke="#d3d3d3" stroke-width="1.75" stroke-dasharray="1.7 6.3" stroke-linecap="round"/>
<line x1="603.3000000000006" y1="543.7" x2="603.3000000000006" y2="848" stroke="#d3d3d3" stroke-width="1.75" stroke-dasharray="1.7 6.3" stroke-linecap="round"/>
<polyline points="111.5,579.6 145.3,574.8 179.1,570.0 212.9,565.4 246.8,560.8 280.6,556.4 314.4,552.0 348.2,547.8 382.0,543.6" fill="none" stroke="#767676" stroke-width="2.0"/>
<polyline points="111.5,627.3 173.6,618.3 235.6,609.5 297.7,600.7 359.8,592.1 421.8,583.6 483.9,575.2 545.9,566.8 608.0,558.7" fill="none" stroke="#767676" stroke-width="2.0"/>
<polyline points="111.5,678.4 173.6,668.8 235.6,659.4 297.7,650.1 359.8,641.0 421.8,631.9 483.9,623.0 545.9,614.2 608.0,605.4" fill="none" stroke="#767676" stroke-width="2.0"/>
<polyline points="111.5,732.5 173.6,722.2 235.6,712.1 297.7,702.1 359.8,692.2 421.8,682.5 483.9,673.0 545.9,663.6 608.0,654.4" fill="none" stroke="#767676" stroke-width="2.0"/>
<polyline points="111.5,791.2 173.6,779.4 235.6,767.9 297.7,756.8 359.8,746.0 421.8,735.5 483.9,725.4 545.9,715.6 608.0,706.2" fill="none" stroke="#767676" stroke-width="2.0"/>
<polyline points="140.0,848.3 198.5,836.4 257.0,824.9 315.5,813.6 374.0,802.7 432.5,792.0 491.0,781.7 549.5,771.6 608.0,761.9" fill="none" stroke="#767676" stroke-width="2.0"/>
<polyline points="477.5,848 608,822.5" fill="none" stroke="#767676" stroke-width="2.0"/>
</g>
<rect x="111.5" y="543.7" width="496.5" height="304.29999999999995" fill="none" stroke="#000" stroke-width="2.6"/>
<line x1="95.0" y1="813.6" x2="111.5" y2="813.6" stroke="#000" stroke-width="2" />
<text x="83.2" y="813.6" fill="#000" font-size="26.56" text-anchor="middle" transform="rotate(-90 83.2 813.6)" >14</text>
<line x1="95.0" y1="760.0" x2="111.5" y2="760.0" stroke="#000" stroke-width="2" />
<text x="83.2" y="760.0" fill="#000" font-size="26.56" text-anchor="middle" transform="rotate(-90 83.2 760.0)" >16</text>
<line x1="95.0" y1="706.4000000000001" x2="111.5" y2="706.4000000000001" stroke="#000" stroke-width="2" />
<text x="83.2" y="706.4000000000001" fill="#000" font-size="26.56" text-anchor="middle" transform="rotate(-90 83.2 706.4000000000001)" >18</text>
<line x1="95.0" y1="652.8000000000001" x2="111.5" y2="652.8000000000001" stroke="#000" stroke-width="2" />
<text x="83.2" y="652.8000000000001" fill="#000" font-size="26.56" text-anchor="middle" transform="rotate(-90 83.2 652.8000000000001)" >20</text>
<line x1="95.0" y1="599.2" x2="111.5" y2="599.2" stroke="#000" stroke-width="2" />
<text x="83.2" y="599.2" fill="#000" font-size="26.56" text-anchor="middle" transform="rotate(-90 83.2 599.2)" >22</text>
<line x1="95.0" y1="545.6" x2="111.5" y2="545.6" stroke="#000" stroke-width="2" />
<text x="83.2" y="545.6" fill="#000" font-size="26.56" text-anchor="middle" transform="rotate(-90 83.2 545.6)" >24</text>
<text x="36.0" y="695.85" fill="#000" font-size="26.56" text-anchor="middle" transform="rotate(-90 36.0 695.85)" >θ [ °C ]</text>
<line x1="190.09999999999854" y1="848" x2="603.3000000000006" y2="848" stroke="#000" stroke-width="2" />
<line x1="190.09999999999854" y1="848" x2="190.09999999999854" y2="864.5" stroke="#000" stroke-width="2" />
<text x="190.09999999999854" y="895.5" fill="#000" font-size="26.56" text-anchor="middle" >35.8</text>
<line x1="293.4" y1="848" x2="293.4" y2="864.5" stroke="#000" stroke-width="2" />
<text x="293.4" y="895.5" fill="#000" font-size="26.56" text-anchor="middle" >36.0</text>
<line x1="396.7000000000014" y1="848" x2="396.7000000000014" y2="864.5" stroke="#000" stroke-width="2" />
<text x="396.7000000000014" y="895.5" fill="#000" font-size="26.56" text-anchor="middle" >36.2</text>
<line x1="499.9999999999992" y1="848" x2="499.9999999999992" y2="864.5" stroke="#000" stroke-width="2" />
<text x="499.9999999999992" y="895.5" fill="#000" font-size="26.56" text-anchor="middle" >36.4</text>
<line x1="603.3000000000006" y1="848" x2="603.3000000000006" y2="864.5" stroke="#000" stroke-width="2" />
<text x="603.3000000000006" y="895.5" fill="#000" font-size="26.56" text-anchor="middle" >36.6</text>
<text x="359.75" y="937" fill="#000" font-size="26.56" text-anchor="middle" >Salinity</text>
<text x="634" y="558.8" fill="#858585" font-size="19.7" text-anchor="middle" transform="rotate(-90 634 558.8)" >25</text>
<text x="634" y="605.3" fill="#858585" font-size="19.7" text-anchor="middle" transform="rotate(-90 634 605.3)" >25.5</text>
<text x="634" y="654.2" fill="#858585" font-size="19.7" text-anchor="middle" transform="rotate(-90 634 654.2)" >26</text>
<text x="634" y="706.8" fill="#858585" font-size="19.7" text-anchor="middle" transform="rotate(-90 634 706.8)" >26.5</text>
<text x="634" y="761.5" fill="#858585" font-size="19.7" text-anchor="middle" transform="rotate(-90 634 761.5)" >27</text>
<text x="634" y="822.5" fill="#858585" font-size="19.7" text-anchor="middle" transform="rotate(-90 634 822.5)" >27.5</text>
<text x="380.3" y="537.1" fill="#858585" font-size="19.7" text-anchor="middle" >24.5</text>
<g clip-path="url(#c4)">
<polygon points="992.5,543 1036.7,625 1053.3,635.8 1060,658 1080.8,663 1095,657.5 1103.3,635 1106.3,627.5 1108,610 1108.8,576.7 1097.5,543" fill="#d3d3d3"/>
<polygon points="1156.3,581.3 1175,577.8 1190,577.5 1205.5,579.2 1206.7,591.2 1159.2,599.2" fill="#d3d3d3"/>
<polygon points="1208,570 1241.7,590.8 1234.7,625 1227.2,619.2 1227.5,595 1208,575" fill="#d3d3d3"/>
<polygon points="1190,656.7 1203.3,659.2 1218.3,698.3 1218.8,726.7 1208.3,728.7 1197.5,701.7 1181.3,687.5" fill="#d3d3d3"/>
<polygon points="895,815.3 918.3,800 926.7,784.2 946.7,773.3 968.3,763.7 1001.7,759.2 1012.5,754.2 1050,758 1085,758.3 1125.8,774.2 1143.3,791.7 1180,787 1185,787 1260,848 1174.2,848 1166.7,829.7 1141.7,831.7 1101.7,818.7 1089.2,809.2 1031.7,801.7 1017.5,792.2 1033.3,780.3 990,778 960,802.5 940.8,803.3 934.2,815.3 910,819.7" fill="#d3d3d3"/>
<polygon points="783,836.25 793.3,834.2 800.8,833.3 804.6,833.2 814.6,843.3 813.75,848 783,848" fill="#d3d3d3"/>
</g>
<circle cx="1031.7" cy="696" r="6.8" fill="#ff0000"/>
<rect x="784" y="544" width="496" height="304" fill="none" stroke="#000" stroke-width="2"/>
<line x1="893.5" y1="527.5" x2="893.5" y2="544" stroke="#000" stroke-width="2" />
<line x1="893.5" y1="848" x2="893.5" y2="864.5" stroke="#000" stroke-width="2" />
<text x="893.5" y="895.5" fill="#000" font-size="26.56" text-anchor="middle" >-85</text>
<line x1="1111.0" y1="527.5" x2="1111.0" y2="544" stroke="#000" stroke-width="2" />
<line x1="1111.0" y1="848" x2="1111.0" y2="864.5" stroke="#000" stroke-width="2" />
<text x="1111.0" y="895.5" fill="#000" font-size="26.56" text-anchor="middle" >-80</text>
<line x1="767.5" y1="810.8000000000001" x2="784" y2="810.8000000000001" stroke="#000" stroke-width="2" />
<line x1="1280" y1="810.8000000000001" x2="1296.5" y2="810.8000000000001" stroke="#000" stroke-width="2" />
<text x="755.7" y="810.8000000000001" fill="#000" font-size="26.56" text-anchor="middle" transform="rotate(-90 755.7 810.8000000000001)" >22</text>
<line x1="767.5" y1="715.0" x2="784" y2="715.0" stroke="#000" stroke-width="2" />
<line x1="1280" y1="715.0" x2="1296.5" y2="715.0" stroke="#000" stroke-width="2" />
<text x="755.7" y="715.0" fill="#000" font-size="26.56" text-anchor="middle" transform="rotate(-90 755.7 715.0)" >24</text>
<line x1="767.5" y1="619.2" x2="784" y2="619.2" stroke="#000" stroke-width="2" />
<line x1="1280" y1="619.2" x2="1296.5" y2="619.2" stroke="#000" stroke-width="2" />
<text x="755.7" y="619.2" fill="#000" font-size="26.56" text-anchor="middle" transform="rotate(-90 755.7 619.2)" >26</text>
<text x="784" y="521.3" fill="#000" font-size="26.56" text-anchor="start" >22.5</text>
<text x="1280.3" y="521.3" fill="#000" font-size="26.56" text-anchor="end" letter-spacing="0.11">2007-02-25 12:31:37</text>
</svg>
</body></html>
